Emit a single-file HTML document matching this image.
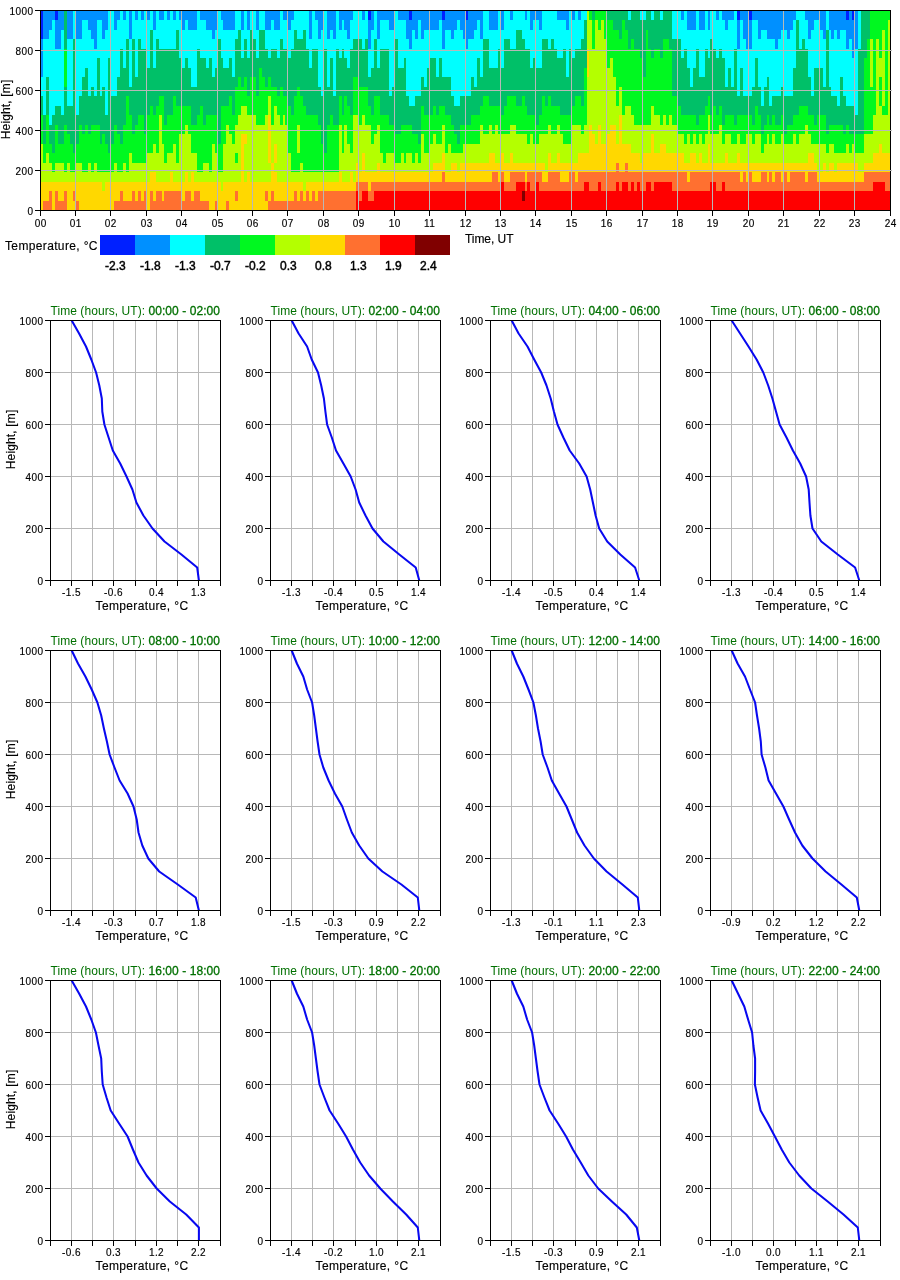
<!DOCTYPE html>
<html><head><meta charset="utf-8"><title>Temperature profiles</title>
<style>html,body{margin:0;padding:0;background:#fff}svg{display:block}body>svg{will-change:transform}text{font-family:'Liberation Sans', Arial, sans-serif;fill:#000}.t{font-size:10px;letter-spacing:0.42px;stroke:#000;stroke-width:.15px}.l{font-size:12px;stroke:#000;stroke-width:.15px}.g{fill:#007000;font-size:12px}.ax{fill:#000;shape-rendering:crispEdges}.gr{fill:#b8b8b8;shape-rendering:crispEdges}.hm{shape-rendering:crispEdges}.cv{fill:none;stroke:#0808f0;stroke-width:2.05;stroke-linejoin:round;stroke-linecap:butt}</style></head><body>
<svg width="900" height="1280" viewBox="0 0 900 1280">
<rect width="900" height="1280" fill="#fff"/>
<g class="hm">
<path fill="#0020ff" d="M40 11h3v28h-3zM55 11h3v9h-3zM368 11h3v9h-3zM409 11h3v9h-3zM442 11h3v9h-3zM466 11h2v9h-2zM737 11h3v9h-3zM749 11h3v9h-3zM846 11h3v9h-3zM852 11h3v9h-3z"/>
<path fill="#0090ff" d="M40 39h3v38h-3zM43 11h3v28h-3zM46 11h3v28h-3zM49 11h3v19h-3zM52 11h3v9h-3zM55 20h3v29h-3zM58 11h3v38h-3zM61 11h3v19h-3zM67 11h3v28h-3zM70 11h3v28h-3zM76 11h3v28h-3zM79 11h3v28h-3zM82 11h3v9h-3zM85 11h3v9h-3zM88 11h3v19h-3zM91 11h3v28h-3zM94 11h3v38h-3zM97 11h3v9h-3zM100 11h2v9h-2zM102 11h3v28h-3zM105 11h3v19h-3zM114 11h3v19h-3zM117 11h3v9h-3zM123 11h3v9h-3zM129 11h3v28h-3zM135 11h3v9h-3zM141 11h3v9h-3zM147 11h3v9h-3zM153 11h3v19h-3zM159 11h3v9h-3zM162 11h2v9h-2zM167 11h3v9h-3zM173 11h3v9h-3zM179 11h3v9h-3zM182 11h3v19h-3zM185 11h3v9h-3zM188 11h3v19h-3zM191 11h3v19h-3zM194 11h3v19h-3zM200 11h3v9h-3zM203 11h3v9h-3zM206 11h3v19h-3zM209 11h3v19h-3zM212 11h3v28h-3zM215 11h3v19h-3zM221 11h2v9h-2zM223 11h3v19h-3zM226 11h3v19h-3zM229 11h3v19h-3zM232 11h3v19h-3zM241 11h3v19h-3zM247 11h3v19h-3zM256 11h3v19h-3zM265 11h3v19h-3zM268 11h3v19h-3zM271 11h3v9h-3zM274 11h3v19h-3zM277 11h3v19h-3zM283 11h2v9h-2zM285 11h3v9h-3zM288 11h3v19h-3zM291 11h3v9h-3zM309 11h3v28h-3zM315 11h3v9h-3zM318 11h3v28h-3zM321 11h3v19h-3zM327 11h3v28h-3zM330 11h3v19h-3zM333 11h3v28h-3zM339 11h3v19h-3zM342 11h2v9h-2zM344 11h3v19h-3zM347 11h3v28h-3zM350 11h3v9h-3zM362 11h3v9h-3zM368 20h3v29h-3zM371 11h3v19h-3zM377 11h3v28h-3zM380 11h3v9h-3zM383 11h3v9h-3zM386 11h3v9h-3zM389 11h3v19h-3zM392 11h3v19h-3zM398 11h3v9h-3zM401 11h3v9h-3zM404 11h2v9h-2zM406 11h3v28h-3zM409 20h3v29h-3zM412 11h3v19h-3zM415 11h3v28h-3zM418 11h3v9h-3zM421 11h3v28h-3zM424 11h3v19h-3zM427 11h3v19h-3zM430 11h3v19h-3zM433 11h3v19h-3zM436 11h3v19h-3zM439 11h3v9h-3zM442 20h3v29h-3zM445 11h3v19h-3zM448 11h3v19h-3zM451 11h3v28h-3zM454 11h3v19h-3zM457 11h3v9h-3zM460 11h3v19h-3zM463 11h3v28h-3zM466 20h2v29h-2zM468 11h3v28h-3zM471 11h3v28h-3zM474 11h3v19h-3zM477 11h3v9h-3zM480 11h3v28h-3zM489 11h3v19h-3zM492 11h3v19h-3zM495 11h3v19h-3zM501 11h3v19h-3zM510 11h3v9h-3zM525 11h2v9h-2zM530 11h3v19h-3zM533 11h3v9h-3zM536 11h3v9h-3zM539 11h3v19h-3zM557 11h3v9h-3zM560 11h3v9h-3zM563 11h3v9h-3zM566 11h3v19h-3zM572 11h3v9h-3zM578 11h3v9h-3zM681 11h3v9h-3zM687 11h3v19h-3zM690 11h3v19h-3zM693 11h3v19h-3zM699 11h3v19h-3zM702 11h3v19h-3zM708 11h2v19h-2zM716 11h3v9h-3zM722 11h3v9h-3zM725 11h3v19h-3zM728 11h3v9h-3zM731 11h3v9h-3zM737 20h3v29h-3zM740 11h3v9h-3zM743 11h3v28h-3zM746 11h3v38h-3zM749 20h3v29h-3zM752 11h3v9h-3zM755 11h3v9h-3zM758 11h3v28h-3zM761 11h3v19h-3zM764 11h3v19h-3zM767 11h2v28h-2zM769 11h3v28h-3zM772 11h3v28h-3zM775 11h3v38h-3zM778 11h3v28h-3zM781 11h3v19h-3zM784 11h3v19h-3zM787 11h3v28h-3zM790 11h3v19h-3zM793 11h3v9h-3zM805 11h3v9h-3zM808 11h3v28h-3zM811 11h3v19h-3zM814 11h3v9h-3zM817 11h3v9h-3zM820 11h3v19h-3zM823 11h3v28h-3zM829 11h2v19h-2zM831 11h3v28h-3zM834 11h3v19h-3zM837 11h3v28h-3zM840 11h3v19h-3zM843 11h3v19h-3zM846 20h3v29h-3zM849 11h3v28h-3zM852 20h3v38h-3zM855 11h3v38h-3z"/>
<path fill="#00ffff" d="M40 77h3v19h-3zM43 39h3v76h-3zM46 39h3v38h-3zM49 30h3v95h-3zM52 20h3v95h-3zM55 49h3v57h-3zM58 49h3v57h-3zM61 30h3v85h-3zM67 39h3v67h-3zM70 39h3v67h-3zM73 11h3v28h-3zM76 39h3v76h-3zM79 39h3v57h-3zM82 20h3v57h-3zM85 20h3v48h-3zM88 30h3v66h-3zM91 39h3v48h-3zM94 49h3v47h-3zM97 20h3v38h-3zM100 20h2v76h-2zM102 39h3v48h-3zM105 30h3v85h-3zM108 11h3v47h-3zM111 11h3v85h-3zM114 30h3v66h-3zM117 20h3v57h-3zM120 11h3v38h-3zM123 20h3v48h-3zM126 11h3v28h-3zM129 39h3v48h-3zM132 11h3v28h-3zM135 20h3v57h-3zM138 11h3v28h-3zM141 20h3v29h-3zM144 11h3v38h-3zM147 20h3v48h-3zM150 11h3v19h-3zM153 30h3v38h-3zM156 11h3v28h-3zM159 20h3v29h-3zM162 20h2v29h-2zM164 11h3v38h-3zM167 20h3v29h-3zM170 11h3v38h-3zM173 20h3v29h-3zM176 11h3v19h-3zM179 20h3v38h-3zM182 30h3v38h-3zM185 20h3v38h-3zM188 30h3v38h-3zM191 30h3v57h-3zM194 30h3v57h-3zM197 11h3v38h-3zM200 20h3v38h-3zM203 20h3v38h-3zM206 30h3v38h-3zM209 30h3v28h-3zM212 39h3v38h-3zM215 30h3v38h-3zM218 11h3v28h-3zM221 20h2v38h-2zM223 30h3v38h-3zM226 30h3v38h-3zM229 30h3v28h-3zM232 30h3v47h-3zM235 11h3v28h-3zM238 11h3v19h-3zM241 30h3v28h-3zM244 11h3v28h-3zM247 30h3v28h-3zM250 11h3v19h-3zM253 11h3v28h-3zM256 30h3v28h-3zM259 11h3v19h-3zM262 11h3v19h-3zM265 30h3v19h-3zM268 30h3v28h-3zM271 20h3v29h-3zM274 30h3v19h-3zM277 30h3v28h-3zM280 11h3v28h-3zM283 20h2v29h-2zM285 20h3v29h-3zM288 30h3v28h-3zM291 20h3v29h-3zM294 11h3v19h-3zM297 11h3v28h-3zM300 11h3v28h-3zM303 11h3v19h-3zM306 11h3v38h-3zM309 39h3v29h-3zM312 11h3v38h-3zM315 20h3v29h-3zM318 39h3v48h-3zM321 30h3v66h-3zM324 11h3v38h-3zM327 39h3v48h-3zM330 30h3v28h-3zM333 39h3v57h-3zM336 11h3v38h-3zM339 30h3v28h-3zM342 20h2v29h-2zM344 30h3v28h-3zM347 39h3v29h-3zM350 20h3v29h-3zM353 11h3v28h-3zM356 11h3v28h-3zM359 11h3v28h-3zM362 20h3v29h-3zM365 11h3v28h-3zM368 49h3v28h-3zM371 30h3v38h-3zM374 11h3v28h-3zM377 39h3v29h-3zM380 20h3v29h-3zM383 20h3v29h-3zM386 20h3v29h-3zM389 30h3v66h-3zM392 30h3v57h-3zM395 11h3v28h-3zM398 20h3v48h-3zM401 20h3v48h-3zM404 20h2v38h-2zM406 39h3v57h-3zM409 49h3v57h-3zM412 30h3v76h-3zM415 39h3v57h-3zM418 20h3v76h-3zM421 39h3v38h-3zM424 30h3v57h-3zM427 30h3v38h-3zM430 30h3v28h-3zM433 30h3v28h-3zM436 30h3v47h-3zM439 20h3v38h-3zM442 49h3v28h-3zM445 30h3v47h-3zM448 30h3v47h-3zM451 39h3v57h-3zM454 30h3v76h-3zM457 20h3v86h-3zM460 30h3v66h-3zM463 39h3v57h-3zM466 49h2v47h-2zM468 39h3v57h-3zM471 39h3v38h-3zM474 30h3v57h-3zM477 20h3v38h-3zM480 39h3v38h-3zM483 11h3v28h-3zM486 11h3v28h-3zM489 30h3v38h-3zM492 30h3v38h-3zM495 30h3v38h-3zM498 11h3v38h-3zM501 30h3v38h-3zM504 11h3v28h-3zM507 11h3v28h-3zM510 20h3v29h-3zM513 11h3v38h-3zM516 11h3v19h-3zM519 11h3v19h-3zM522 11h3v28h-3zM525 20h2v29h-2zM527 11h3v38h-3zM530 30h3v38h-3zM533 20h3v38h-3zM536 20h3v48h-3zM539 30h3v38h-3zM542 11h3v28h-3zM545 11h3v28h-3zM548 11h3v38h-3zM551 11h3v28h-3zM554 11h3v38h-3zM557 20h3v38h-3zM560 20h3v38h-3zM563 20h3v29h-3zM566 30h3v47h-3zM569 11h3v38h-3zM572 20h3v38h-3zM575 11h3v38h-3zM578 20h3v29h-3zM581 11h3v28h-3zM584 11h3v9h-3zM628 11h3v9h-3zM640 11h3v9h-3zM643 11h3v9h-3zM651 11h3v9h-3zM660 11h3v9h-3zM672 11h3v28h-3zM675 11h3v28h-3zM678 11h3v28h-3zM681 20h3v38h-3zM684 11h3v38h-3zM687 30h3v38h-3zM690 30h3v57h-3zM693 30h3v38h-3zM696 11h3v38h-3zM699 30h3v47h-3zM702 30h3v47h-3zM705 11h3v38h-3zM708 30h2v28h-2zM710 11h3v28h-3zM713 11h3v38h-3zM716 20h3v38h-3zM719 11h3v38h-3zM722 20h3v38h-3zM725 30h3v57h-3zM728 20h3v48h-3zM731 20h3v67h-3zM734 11h3v38h-3zM737 49h3v47h-3zM740 20h3v48h-3zM743 39h3v57h-3zM746 49h3v47h-3zM749 49h3v47h-3zM752 20h3v67h-3zM755 20h3v38h-3zM758 39h3v48h-3zM761 30h3v76h-3zM764 30h3v57h-3zM767 39h2v38h-2zM769 39h3v67h-3zM772 39h3v57h-3zM775 49h3v47h-3zM778 39h3v57h-3zM781 30h3v57h-3zM784 30h3v66h-3zM787 39h3v57h-3zM790 30h3v66h-3zM793 20h3v48h-3zM796 11h3v9h-3zM799 11h3v38h-3zM802 11h3v28h-3zM805 20h3v29h-3zM808 39h3v38h-3zM811 30h3v66h-3zM814 20h3v48h-3zM817 20h3v48h-3zM820 30h3v38h-3zM823 39h3v48h-3zM826 11h3v19h-3zM829 30h2v57h-2zM831 39h3v57h-3zM834 30h3v66h-3zM837 39h3v67h-3zM840 30h3v47h-3zM843 30h3v66h-3zM846 49h3v57h-3zM849 39h3v67h-3zM852 58h3v48h-3zM855 49h3v66h-3zM858 11h3v38h-3z"/>
<path fill="#00c068" d="M40 96h3v19h-3zM43 115h3v29h-3zM46 77h3v38h-3zM49 125h3v19h-3zM52 115h3v38h-3zM55 106h3v19h-3zM58 106h3v38h-3zM61 115h3v29h-3zM64 11h3v38h-3zM64 87h3v38h-3zM67 106h3v28h-3zM70 106h3v38h-3zM73 39h3v114h-3zM76 115h3v29h-3zM79 96h3v29h-3zM82 77h3v57h-3zM85 68h3v57h-3zM88 96h3v38h-3zM91 87h3v38h-3zM94 96h3v29h-3zM97 58h3v67h-3zM100 96h2v48h-2zM102 87h3v47h-3zM105 115h3v29h-3zM108 58h3v95h-3zM111 96h3v48h-3zM114 96h3v29h-3zM117 77h3v57h-3zM120 49h3v95h-3zM123 68h3v57h-3zM126 39h3v57h-3zM129 87h3v28h-3zM132 39h3v95h-3zM135 77h3v48h-3zM138 39h3v76h-3zM141 49h3v66h-3zM144 49h3v85h-3zM147 68h3v47h-3zM150 30h3v76h-3zM153 68h3v47h-3zM156 39h3v67h-3zM159 49h3v47h-3zM162 49h2v47h-2zM164 49h3v76h-3zM167 49h3v66h-3zM170 49h3v66h-3zM173 49h3v47h-3zM176 30h3v76h-3zM179 58h3v48h-3zM182 68h3v38h-3zM185 58h3v48h-3zM188 68h3v38h-3zM191 87h3v38h-3zM194 87h3v38h-3zM197 49h3v66h-3zM200 58h3v48h-3zM203 58h3v67h-3zM206 68h3v47h-3zM209 58h3v57h-3zM212 77h3v38h-3zM215 68h3v47h-3zM218 39h3v105h-3zM221 58h2v48h-2zM223 68h3v38h-3zM226 68h3v38h-3zM229 58h3v38h-3zM232 77h3v38h-3zM235 39h3v48h-3zM238 30h3v47h-3zM241 58h3v29h-3zM244 39h3v38h-3zM247 58h3v38h-3zM250 30h3v47h-3zM253 39h3v38h-3zM256 58h3v38h-3zM259 30h3v38h-3zM262 30h3v47h-3zM265 49h3v38h-3zM268 58h3v19h-3zM271 49h3v38h-3zM274 49h3v38h-3zM277 58h3v38h-3zM280 39h3v48h-3zM283 49h2v47h-2zM285 49h3v47h-3zM288 58h3v48h-3zM291 49h3v66h-3zM294 30h3v66h-3zM297 39h3v48h-3zM300 39h3v57h-3zM303 30h3v76h-3zM306 49h3v66h-3zM309 68h3v47h-3zM312 49h3v66h-3zM315 49h3v66h-3zM318 87h3v38h-3zM321 96h3v48h-3zM324 49h3v104h-3zM327 87h3v38h-3zM330 58h3v57h-3zM333 96h3v29h-3zM336 49h3v76h-3zM339 58h3v38h-3zM342 49h2v66h-2zM344 58h3v38h-3zM347 68h3v38h-3zM350 49h3v66h-3zM353 39h3v38h-3zM356 39h3v38h-3zM359 39h3v48h-3zM362 49h3v38h-3zM365 39h3v48h-3zM368 77h3v29h-3zM371 68h3v47h-3zM374 39h3v57h-3zM377 68h3v28h-3zM380 49h3v66h-3zM383 49h3v66h-3zM386 49h3v66h-3zM389 96h3v29h-3zM392 87h3v38h-3zM395 39h3v95h-3zM398 68h3v66h-3zM401 68h3v57h-3zM404 58h2v67h-2zM406 96h3v29h-3zM409 106h3v19h-3zM412 106h3v28h-3zM415 96h3v38h-3zM418 96h3v48h-3zM421 77h3v29h-3zM424 87h3v28h-3zM427 68h3v47h-3zM430 58h3v57h-3zM433 58h3v48h-3zM436 77h3v38h-3zM439 58h3v48h-3zM442 77h3v29h-3zM445 77h3v38h-3zM448 77h3v38h-3zM451 96h3v29h-3zM454 106h3v28h-3zM457 106h3v38h-3zM460 96h3v29h-3zM463 96h3v29h-3zM466 96h2v29h-2zM468 96h3v29h-3zM471 77h3v38h-3zM474 87h3v28h-3zM477 58h3v57h-3zM480 77h3v29h-3zM483 39h3v57h-3zM486 39h3v57h-3zM489 68h3v38h-3zM492 68h3v38h-3zM495 68h3v38h-3zM498 49h3v57h-3zM501 68h3v47h-3zM504 39h3v67h-3zM507 39h3v57h-3zM510 49h3v47h-3zM513 49h3v47h-3zM516 30h3v76h-3zM519 30h3v76h-3zM522 39h3v57h-3zM525 49h2v57h-2zM527 49h3v66h-3zM530 68h3v47h-3zM533 58h3v57h-3zM536 68h3v57h-3zM539 68h3v47h-3zM542 39h3v57h-3zM545 39h3v67h-3zM548 49h3v47h-3zM551 39h3v67h-3zM554 49h3v57h-3zM557 58h3v48h-3zM560 58h3v57h-3zM563 49h3v66h-3zM566 77h3v38h-3zM569 49h3v66h-3zM572 58h3v48h-3zM575 49h3v47h-3zM578 49h3v47h-3zM581 39h3v67h-3zM584 20h3v48h-3zM592 11h3v9h-3zM607 11h3v9h-3zM610 11h3v9h-3zM613 11h3v19h-3zM616 11h3v19h-3zM619 11h3v28h-3zM622 11h3v9h-3zM625 11h3v19h-3zM628 20h3v29h-3zM631 11h3v28h-3zM634 11h3v38h-3zM637 11h3v38h-3zM640 20h3v38h-3zM643 20h3v57h-3zM646 11h2v19h-2zM648 11h3v38h-3zM651 20h3v38h-3zM654 11h3v38h-3zM657 11h3v38h-3zM660 20h3v38h-3zM663 11h3v28h-3zM666 11h3v28h-3zM669 11h3v38h-3zM672 39h3v57h-3zM675 39h3v57h-3zM678 39h3v67h-3zM681 58h3v57h-3zM684 49h3v66h-3zM687 68h3v47h-3zM690 87h3v28h-3zM693 68h3v47h-3zM696 49h3v76h-3zM699 77h3v38h-3zM702 77h3v38h-3zM705 49h3v57h-3zM708 58h2v38h-2zM710 39h3v76h-3zM713 49h3v57h-3zM716 58h3v57h-3zM719 49h3v57h-3zM722 58h3v67h-3zM725 87h3v28h-3zM728 68h3v47h-3zM731 87h3v28h-3zM734 49h3v76h-3zM737 96h3v19h-3zM740 68h3v47h-3zM743 96h3v19h-3zM746 96h3v19h-3zM749 96h3v19h-3zM752 87h3v38h-3zM755 58h3v48h-3zM758 87h3v28h-3zM761 106h3v28h-3zM764 87h3v38h-3zM767 77h2v38h-2zM769 106h3v19h-3zM772 96h3v19h-3zM775 96h3v29h-3zM778 96h3v29h-3zM781 87h3v28h-3zM784 96h3v38h-3zM787 96h3v29h-3zM790 96h3v29h-3zM793 68h3v47h-3zM796 20h3v95h-3zM799 49h3v57h-3zM802 39h3v67h-3zM805 49h3v57h-3zM808 77h3v38h-3zM811 96h3v19h-3zM814 68h3v57h-3zM817 68h3v47h-3zM820 68h3v47h-3zM823 87h3v28h-3zM826 30h3v104h-3zM829 87h2v38h-2zM831 96h3v29h-3zM834 96h3v29h-3zM837 106h3v19h-3zM840 77h3v48h-3zM843 96h3v38h-3zM846 106h3v19h-3zM849 106h3v28h-3zM852 106h3v28h-3zM855 115h3v19h-3zM858 49h3v85h-3zM861 11h3v123h-3zM864 11h3v47h-3zM867 11h3v28h-3z"/>
<path fill="#00f820" d="M40 115h3v29h-3zM43 144h3v19h-3zM46 115h3v38h-3zM49 144h3v19h-3zM52 153h3v19h-3zM55 125h3v38h-3zM58 144h3v19h-3zM61 144h3v19h-3zM64 49h3v38h-3zM64 125h3v47h-3zM67 134h3v29h-3zM70 144h3v28h-3zM73 153h3v19h-3zM76 144h3v19h-3zM79 125h3v38h-3zM82 134h3v38h-3zM85 125h3v47h-3zM88 134h3v29h-3zM91 125h3v47h-3zM94 125h3v38h-3zM97 125h3v47h-3zM100 144h2v28h-2zM102 134h3v38h-3zM105 144h3v28h-3zM108 153h3v19h-3zM111 144h3v28h-3zM114 125h3v38h-3zM117 134h3v38h-3zM120 144h3v28h-3zM123 125h3v38h-3zM126 96h3v76h-3zM129 115h3v38h-3zM132 134h3v29h-3zM135 125h3v38h-3zM138 115h3v48h-3zM141 115h3v48h-3zM144 134h3v29h-3zM147 115h3v38h-3zM150 106h3v47h-3zM153 115h3v29h-3zM156 106h3v47h-3zM159 96h3v19h-3zM162 96h2v48h-2zM164 125h3v38h-3zM167 115h3v38h-3zM170 115h3v38h-3zM173 96h3v48h-3zM176 106h3v57h-3zM179 106h3v28h-3zM182 106h3v28h-3zM185 106h3v19h-3zM188 106h3v28h-3zM191 125h3v28h-3zM194 125h3v28h-3zM197 115h3v57h-3zM200 106h3v66h-3zM203 125h3v38h-3zM206 115h3v48h-3zM209 115h3v57h-3zM212 115h3v29h-3zM215 115h3v38h-3zM218 144h3v28h-3zM221 106h2v66h-2zM223 106h3v38h-3zM226 106h3v19h-3zM229 96h3v38h-3zM232 115h3v29h-3zM235 87h3v38h-3zM235 153h3v10h-3zM238 77h3v38h-3zM241 87h3v19h-3zM244 77h3v29h-3zM247 96h3v19h-3zM250 77h3v38h-3zM253 77h3v38h-3zM256 96h3v29h-3zM259 68h3v57h-3zM262 77h3v48h-3zM265 87h3v28h-3zM268 77h3v19h-3zM271 87h3v38h-3zM274 87h3v19h-3zM277 96h3v19h-3zM280 87h3v38h-3zM283 96h2v19h-2zM285 96h3v29h-3zM288 106h3v47h-3zM291 115h3v57h-3zM294 96h3v76h-3zM297 87h3v38h-3zM297 153h3v19h-3zM300 96h3v67h-3zM303 106h3v66h-3zM306 115h3v57h-3zM309 115h3v57h-3zM312 115h3v57h-3zM315 115h3v57h-3zM318 125h3v47h-3zM321 144h3v28h-3zM324 153h3v19h-3zM327 125h3v47h-3zM330 115h3v57h-3zM333 125h3v47h-3zM336 125h3v47h-3zM339 96h3v29h-3zM342 115h2v38h-2zM344 96h3v29h-3zM347 106h3v38h-3zM350 115h3v38h-3zM353 77h3v38h-3zM356 77h3v38h-3zM359 87h3v38h-3zM362 87h3v28h-3zM365 87h3v38h-3zM368 106h3v19h-3zM371 115h3v29h-3zM374 96h3v38h-3zM377 96h3v29h-3zM380 115h3v38h-3zM383 115h3v48h-3zM386 115h3v38h-3zM389 125h3v28h-3zM392 125h3v28h-3zM395 134h3v29h-3zM398 134h3v29h-3zM401 125h3v28h-3zM404 125h2v38h-2zM406 125h3v28h-3zM409 125h3v28h-3zM412 134h3v29h-3zM415 134h3v19h-3zM418 144h3v19h-3zM421 106h3v28h-3zM424 115h3v38h-3zM427 115h3v38h-3zM430 115h3v29h-3zM433 106h3v28h-3zM436 115h3v29h-3zM439 106h3v38h-3zM442 106h3v19h-3zM445 115h3v38h-3zM448 115h3v29h-3zM451 125h3v28h-3zM454 134h3v19h-3zM457 144h3v9h-3zM460 125h3v28h-3zM463 125h3v19h-3zM466 125h2v19h-2zM468 125h3v19h-3zM471 115h3v29h-3zM474 115h3v29h-3zM477 115h3v29h-3zM480 106h3v19h-3zM483 96h3v38h-3zM486 96h3v38h-3zM489 106h3v19h-3zM492 106h3v28h-3zM495 106h3v19h-3zM498 106h3v28h-3zM501 115h3v19h-3zM504 106h3v28h-3zM507 96h3v38h-3zM510 96h3v29h-3zM513 96h3v29h-3zM516 106h3v28h-3zM519 106h3v28h-3zM522 96h3v38h-3zM525 106h2v28h-2zM527 115h3v29h-3zM530 115h3v19h-3zM533 115h3v29h-3zM536 125h3v19h-3zM539 115h3v19h-3zM542 96h3v38h-3zM545 106h3v28h-3zM548 96h3v29h-3zM551 106h3v28h-3zM554 106h3v28h-3zM557 106h3v19h-3zM560 115h3v19h-3zM563 115h3v29h-3zM566 115h3v29h-3zM569 115h3v29h-3zM572 106h3v19h-3zM575 96h3v29h-3zM578 96h3v29h-3zM581 106h3v28h-3zM584 68h3v57h-3zM589 11h3v9h-3zM592 20h3v29h-3zM595 11h3v9h-3zM598 11h3v19h-3zM601 11h3v9h-3zM604 11h3v28h-3zM607 20h3v48h-3zM610 20h3v38h-3zM613 30h3v47h-3zM616 30h3v76h-3zM619 39h3v48h-3zM622 20h3v95h-3zM625 30h3v76h-3zM628 49h3v57h-3zM631 39h3v76h-3zM634 49h3v76h-3zM637 49h3v76h-3zM640 58h3v67h-3zM643 77h3v48h-3zM646 30h2v95h-2zM648 49h3v76h-3zM651 58h3v48h-3zM654 49h3v66h-3zM657 49h3v66h-3zM660 58h3v67h-3zM663 39h3v76h-3zM666 39h3v86h-3zM669 49h3v66h-3zM672 96h3v29h-3zM675 96h3v29h-3zM678 106h3v28h-3zM681 115h3v19h-3zM684 115h3v29h-3zM687 115h3v19h-3zM690 115h3v29h-3zM693 115h3v19h-3zM696 125h3v19h-3zM699 115h3v19h-3zM702 115h3v29h-3zM705 106h3v28h-3zM708 96h2v19h-2zM710 115h3v19h-3zM713 106h3v28h-3zM716 115h3v19h-3zM719 106h3v19h-3zM722 125h3v19h-3zM725 115h3v19h-3zM728 115h3v19h-3zM731 115h3v29h-3zM734 125h3v19h-3zM737 115h3v19h-3zM740 115h3v29h-3zM743 115h3v29h-3zM746 115h3v19h-3zM749 115h3v19h-3zM752 125h3v19h-3zM755 106h3v28h-3zM758 115h3v19h-3zM761 134h3v19h-3zM764 125h3v19h-3zM767 115h2v19h-2zM769 125h3v19h-3zM772 115h3v19h-3zM775 125h3v19h-3zM778 125h3v19h-3zM781 115h3v19h-3zM784 134h3v10h-3zM787 125h3v19h-3zM790 125h3v19h-3zM793 115h3v19h-3zM796 115h3v29h-3zM799 106h3v28h-3zM802 106h3v28h-3zM805 106h3v19h-3zM808 115h3v19h-3zM811 115h3v29h-3zM814 125h3v19h-3zM817 115h3v29h-3zM820 115h3v29h-3zM823 115h3v29h-3zM826 134h3v19h-3zM829 125h2v19h-2zM831 125h3v19h-3zM834 125h3v28h-3zM837 125h3v28h-3zM840 125h3v28h-3zM843 134h3v19h-3zM846 125h3v19h-3zM849 134h3v19h-3zM852 134h3v10h-3zM855 134h3v19h-3zM858 134h3v19h-3zM861 134h3v19h-3zM864 58h3v76h-3zM867 39h3v95h-3zM870 11h3v28h-3zM870 87h3v47h-3zM873 11h3v104h-3zM876 11h3v28h-3zM879 11h3v47h-3zM879 77h3v29h-3zM882 11h3v19h-3zM882 106h3v9h-3zM885 11h3v104h-3zM888 11h2v9h-2z"/>
<path fill="#b4ff00" d="M40 144h3v38h-3zM43 163h3v19h-3zM46 153h3v29h-3zM49 163h3v19h-3zM52 172h3v10h-3zM55 163h3v19h-3zM58 163h3v19h-3zM61 163h3v19h-3zM64 172h3v10h-3zM67 163h3v19h-3zM70 172h3v10h-3zM73 172h3v10h-3zM76 163h3v19h-3zM79 163h3v19h-3zM82 172h3v10h-3zM85 172h3v10h-3zM88 163h3v19h-3zM91 172h3v10h-3zM94 163h3v19h-3zM97 172h3v10h-3zM100 172h2v10h-2zM102 172h3v19h-3zM105 172h3v10h-3zM108 172h3v10h-3zM111 172h3v10h-3zM114 163h3v19h-3zM117 172h3v10h-3zM120 172h3v10h-3zM123 163h3v19h-3zM126 172h3v10h-3zM129 153h3v29h-3zM132 163h3v19h-3zM135 163h3v19h-3zM138 163h3v19h-3zM141 163h3v19h-3zM144 163h3v19h-3zM147 153h3v29h-3zM150 153h3v19h-3zM153 144h3v28h-3zM156 153h3v29h-3zM159 115h3v67h-3zM162 144h2v38h-2zM164 163h3v19h-3zM167 153h3v29h-3zM170 153h3v19h-3zM173 144h3v38h-3zM176 163h3v19h-3zM179 134h3v48h-3zM182 134h3v48h-3zM185 125h3v47h-3zM188 134h3v48h-3zM191 153h3v19h-3zM194 153h3v29h-3zM197 172h3v10h-3zM200 172h3v10h-3zM203 163h3v19h-3zM206 163h3v19h-3zM209 172h3v10h-3zM212 144h3v38h-3zM215 153h3v29h-3zM218 172h3v10h-3zM221 172h2v19h-2zM223 144h3v38h-3zM226 125h3v57h-3zM229 134h3v48h-3zM232 144h3v38h-3zM235 125h3v28h-3zM235 163h3v19h-3zM238 115h3v67h-3zM241 106h3v28h-3zM244 106h3v28h-3zM244 144h3v38h-3zM247 115h3v57h-3zM250 115h3v67h-3zM253 115h3v67h-3zM256 125h3v57h-3zM259 125h3v57h-3zM262 125h3v57h-3zM265 115h3v67h-3zM268 96h3v19h-3zM268 163h3v19h-3zM271 125h3v38h-3zM274 106h3v38h-3zM274 163h3v9h-3zM277 115h3v67h-3zM280 125h3v57h-3zM283 115h2v67h-2zM285 125h3v57h-3zM288 153h3v29h-3zM291 172h3v10h-3zM294 172h3v10h-3zM297 125h3v28h-3zM297 172h3v10h-3zM300 163h3v19h-3zM303 172h3v19h-3zM306 172h3v10h-3zM309 172h3v10h-3zM312 172h3v10h-3zM315 172h3v10h-3zM318 172h3v10h-3zM321 172h3v10h-3zM324 172h3v10h-3zM327 172h3v10h-3zM330 172h3v10h-3zM333 172h3v10h-3zM336 172h3v10h-3zM339 125h3v47h-3zM342 153h2v29h-2zM344 125h3v57h-3zM347 144h3v38h-3zM350 153h3v19h-3zM353 115h3v67h-3zM356 115h3v48h-3zM359 125h3v47h-3zM362 115h3v38h-3zM365 125h3v47h-3zM368 125h3v47h-3zM371 144h3v28h-3zM374 134h3v38h-3zM377 125h3v38h-3zM380 153h3v19h-3zM383 163h3v9h-3zM386 153h3v19h-3zM389 153h3v19h-3zM392 153h3v19h-3zM395 163h3v9h-3zM398 163h3v9h-3zM401 153h3v19h-3zM404 163h2v9h-2zM406 153h3v19h-3zM409 153h3v19h-3zM412 163h3v9h-3zM415 153h3v19h-3zM418 163h3v9h-3zM421 134h3v38h-3zM424 153h3v19h-3zM427 153h3v19h-3zM430 144h3v28h-3zM433 134h3v29h-3zM436 144h3v19h-3zM439 144h3v19h-3zM442 125h3v28h-3zM445 153h3v19h-3zM448 144h3v28h-3zM451 153h3v10h-3zM454 153h3v10h-3zM457 153h3v19h-3zM460 153h3v10h-3zM463 144h3v19h-3zM466 144h2v19h-2zM468 144h3v19h-3zM471 144h3v19h-3zM474 144h3v19h-3zM477 144h3v19h-3zM480 125h3v38h-3zM483 134h3v29h-3zM486 134h3v29h-3zM489 125h3v28h-3zM492 134h3v19h-3zM495 125h3v38h-3zM498 134h3v29h-3zM501 134h3v19h-3zM504 134h3v29h-3zM507 134h3v29h-3zM510 125h3v28h-3zM513 125h3v38h-3zM516 134h3v29h-3zM519 134h3v29h-3zM522 134h3v29h-3zM525 134h2v29h-2zM527 144h3v19h-3zM530 134h3v29h-3zM533 144h3v19h-3zM536 144h3v19h-3zM539 134h3v29h-3zM542 134h3v29h-3zM545 134h3v38h-3zM548 125h3v28h-3zM551 134h3v29h-3zM554 134h3v29h-3zM557 125h3v28h-3zM560 134h3v29h-3zM563 144h3v19h-3zM566 144h3v19h-3zM569 144h3v19h-3zM572 125h3v38h-3zM575 125h3v38h-3zM578 125h3v28h-3zM581 134h3v19h-3zM584 125h3v28h-3zM587 11h2v38h-2zM587 77h2v76h-2zM589 20h3v105h-3zM592 49h3v85h-3zM595 20h3v124h-3zM598 30h3v95h-3zM601 20h3v124h-3zM604 39h3v105h-3zM607 68h3v66h-3zM610 58h3v67h-3zM613 77h3v48h-3zM616 106h3v38h-3zM619 87h3v28h-3zM622 115h3v29h-3zM625 106h3v38h-3zM628 106h3v38h-3zM631 115h3v38h-3zM634 125h3v28h-3zM637 125h3v28h-3zM640 125h3v38h-3zM643 125h3v28h-3zM646 125h2v28h-2zM648 125h3v28h-3zM651 106h3v28h-3zM654 115h3v38h-3zM657 115h3v38h-3zM660 125h3v19h-3zM663 115h3v29h-3zM666 125h3v28h-3zM669 115h3v38h-3zM672 125h3v28h-3zM675 125h3v28h-3zM678 134h3v19h-3zM681 134h3v19h-3zM684 144h3v19h-3zM687 134h3v29h-3zM690 144h3v9h-3zM693 134h3v19h-3zM696 144h3v19h-3zM699 134h3v19h-3zM702 144h3v19h-3zM705 134h3v29h-3zM708 115h2v29h-2zM710 134h3v29h-3zM713 134h3v29h-3zM716 134h3v29h-3zM719 125h3v38h-3zM722 144h3v19h-3zM725 134h3v19h-3zM728 134h3v29h-3zM731 144h3v19h-3zM734 144h3v19h-3zM737 134h3v19h-3zM740 144h3v19h-3zM743 144h3v19h-3zM746 134h3v29h-3zM749 134h3v29h-3zM752 144h3v19h-3zM755 134h3v29h-3zM758 134h3v29h-3zM761 153h3v10h-3zM764 144h3v19h-3zM767 134h2v29h-2zM769 144h3v19h-3zM772 134h3v29h-3zM775 144h3v19h-3zM778 144h3v19h-3zM781 134h3v29h-3zM784 144h3v19h-3zM787 144h3v19h-3zM790 144h3v19h-3zM793 134h3v29h-3zM796 144h3v19h-3zM799 134h3v29h-3zM802 134h3v29h-3zM805 125h3v38h-3zM808 134h3v19h-3zM811 144h3v9h-3zM814 144h3v19h-3zM817 144h3v28h-3zM820 144h3v28h-3zM823 144h3v19h-3zM826 153h3v19h-3zM829 144h2v19h-2zM831 144h3v19h-3zM834 153h3v19h-3zM837 153h3v10h-3zM840 153h3v10h-3zM843 153h3v10h-3zM846 144h3v19h-3zM849 153h3v10h-3zM852 144h3v19h-3zM855 153h3v10h-3zM858 153h3v19h-3zM861 153h3v19h-3zM864 134h3v29h-3zM867 134h3v29h-3zM870 39h3v48h-3zM870 134h3v29h-3zM873 115h3v38h-3zM876 39h3v114h-3zM879 58h3v19h-3zM879 106h3v38h-3zM882 30h3v76h-3zM882 115h3v38h-3zM885 115h3v38h-3zM888 20h2v133h-2z"/>
<path fill="#ffd800" d="M40 182h3v29h-3zM43 182h3v19h-3zM46 182h3v19h-3zM49 182h3v9h-3zM52 182h3v29h-3zM55 182h3v9h-3zM58 182h3v19h-3zM61 182h3v19h-3zM64 182h3v9h-3zM67 182h3v29h-3zM70 182h3v29h-3zM73 182h3v9h-3zM73 201h3v10h-3zM76 182h3v19h-3zM79 182h3v29h-3zM82 182h3v29h-3zM85 182h3v29h-3zM88 182h3v29h-3zM91 182h3v29h-3zM94 182h3v29h-3zM97 182h3v29h-3zM100 182h2v29h-2zM102 191h3v20h-3zM105 182h3v29h-3zM108 182h3v29h-3zM111 182h3v29h-3zM114 182h3v19h-3zM117 182h3v19h-3zM120 182h3v9h-3zM123 182h3v19h-3zM126 182h3v19h-3zM129 182h3v19h-3zM132 182h3v9h-3zM135 182h3v19h-3zM138 182h3v9h-3zM141 182h3v19h-3zM144 182h3v9h-3zM147 182h3v29h-3zM150 172h3v19h-3zM153 172h3v29h-3zM156 182h3v9h-3zM159 182h3v9h-3zM162 182h2v19h-2zM164 182h3v9h-3zM167 182h3v9h-3zM170 172h3v19h-3zM173 182h3v9h-3zM176 182h3v9h-3zM179 182h3v9h-3zM182 182h3v19h-3zM185 172h3v19h-3zM188 182h3v9h-3zM191 172h3v29h-3zM194 182h3v9h-3zM197 182h3v9h-3zM200 182h3v19h-3zM203 182h3v19h-3zM206 182h3v19h-3zM209 182h3v29h-3zM212 182h3v29h-3zM215 182h3v19h-3zM218 182h3v29h-3zM221 191h2v20h-2zM223 182h3v29h-3zM226 182h3v19h-3zM229 182h3v29h-3zM232 182h3v29h-3zM235 182h3v9h-3zM235 201h3v10h-3zM238 182h3v29h-3zM241 134h3v77h-3zM244 134h3v10h-3zM244 182h3v29h-3zM247 172h3v39h-3zM250 182h3v29h-3zM253 182h3v29h-3zM256 182h3v29h-3zM259 182h3v29h-3zM262 182h3v29h-3zM265 182h3v9h-3zM265 201h3v10h-3zM268 115h3v48h-3zM268 182h3v19h-3zM271 163h3v28h-3zM274 144h3v19h-3zM274 172h3v29h-3zM277 182h3v19h-3zM280 182h3v19h-3zM283 182h2v19h-2zM285 182h3v19h-3zM288 182h3v19h-3zM291 182h3v19h-3zM294 182h3v9h-3zM297 182h3v19h-3zM300 182h3v9h-3zM303 191h3v10h-3zM306 182h3v9h-3zM309 182h3v19h-3zM312 182h3v9h-3zM315 182h3v19h-3zM318 182h3v9h-3zM321 182h3v9h-3zM324 182h3v9h-3zM327 182h3v9h-3zM330 182h3v9h-3zM333 182h3v9h-3zM336 182h3v9h-3zM339 172h3v19h-3zM342 182h2v9h-2zM344 182h3v9h-3zM347 182h3v9h-3zM350 172h3v19h-3zM353 182h3v9h-3zM356 163h3v19h-3zM359 172h3v10h-3zM362 153h3v29h-3zM365 172h3v10h-3zM368 172h3v19h-3zM371 172h3v10h-3zM374 172h3v10h-3zM377 163h3v19h-3zM380 172h3v10h-3zM383 172h3v10h-3zM386 172h3v10h-3zM389 172h3v10h-3zM392 172h3v10h-3zM395 172h3v10h-3zM398 172h3v10h-3zM401 172h3v10h-3zM404 172h2v10h-2zM406 172h3v10h-3zM409 172h3v10h-3zM412 172h3v10h-3zM415 172h3v10h-3zM418 172h3v10h-3zM421 172h3v10h-3zM424 172h3v10h-3zM427 172h3v10h-3zM430 172h3v10h-3zM433 163h3v19h-3zM436 163h3v19h-3zM439 163h3v19h-3zM442 153h3v19h-3zM445 172h3v10h-3zM448 172h3v10h-3zM451 163h3v19h-3zM454 163h3v19h-3zM457 172h3v10h-3zM460 163h3v19h-3zM463 163h3v19h-3zM466 163h2v19h-2zM468 163h3v19h-3zM471 163h3v19h-3zM474 163h3v19h-3zM477 163h3v19h-3zM480 163h3v19h-3zM483 163h3v19h-3zM486 163h3v19h-3zM489 153h3v29h-3zM492 153h3v19h-3zM495 163h3v9h-3zM498 163h3v19h-3zM501 153h3v19h-3zM504 163h3v19h-3zM507 163h3v19h-3zM510 153h3v19h-3zM513 163h3v9h-3zM516 163h3v9h-3zM519 163h3v9h-3zM522 163h3v9h-3zM525 163h2v19h-2zM527 163h3v9h-3zM530 163h3v9h-3zM533 163h3v9h-3zM536 163h3v9h-3zM539 163h3v9h-3zM542 163h3v19h-3zM545 172h3v10h-3zM548 153h3v19h-3zM551 163h3v9h-3zM554 163h3v9h-3zM557 153h3v19h-3zM560 163h3v19h-3zM563 163h3v19h-3zM566 163h3v19h-3zM569 163h3v9h-3zM572 163h3v9h-3zM575 163h3v19h-3zM578 153h3v19h-3zM581 153h3v19h-3zM584 153h3v19h-3zM587 49h2v28h-2zM587 153h2v19h-2zM589 125h3v47h-3zM592 134h3v38h-3zM595 144h3v28h-3zM598 125h3v47h-3zM601 144h3v28h-3zM604 144h3v28h-3zM607 134h3v38h-3zM610 125h3v47h-3zM613 125h3v47h-3zM616 144h3v19h-3zM619 115h3v57h-3zM622 144h3v28h-3zM625 144h3v19h-3zM628 144h3v28h-3zM631 153h3v19h-3zM634 153h3v19h-3zM637 153h3v19h-3zM640 163h3v9h-3zM643 153h3v19h-3zM646 153h2v19h-2zM648 153h3v19h-3zM651 134h3v38h-3zM654 153h3v19h-3zM657 153h3v19h-3zM660 144h3v28h-3zM663 144h3v28h-3zM666 153h3v19h-3zM669 153h3v19h-3zM672 153h3v19h-3zM675 153h3v19h-3zM678 153h3v19h-3zM681 153h3v19h-3zM684 163h3v9h-3zM687 163h3v19h-3zM690 153h3v19h-3zM693 153h3v19h-3zM696 163h3v9h-3zM699 153h3v19h-3zM702 163h3v9h-3zM705 163h3v9h-3zM708 144h2v28h-2zM710 163h3v9h-3zM713 163h3v9h-3zM716 163h3v9h-3zM719 163h3v9h-3zM722 163h3v9h-3zM725 153h3v19h-3zM728 163h3v9h-3zM731 163h3v9h-3zM734 163h3v9h-3zM737 153h3v19h-3zM740 163h3v19h-3zM743 163h3v9h-3zM746 163h3v19h-3zM749 163h3v9h-3zM752 163h3v19h-3zM755 163h3v19h-3zM758 163h3v19h-3zM761 163h3v9h-3zM764 163h3v9h-3zM767 163h2v19h-2zM769 163h3v9h-3zM772 163h3v19h-3zM775 163h3v9h-3zM778 163h3v9h-3zM781 163h3v19h-3zM784 163h3v9h-3zM787 163h3v19h-3zM790 163h3v9h-3zM793 163h3v9h-3zM796 163h3v9h-3zM799 163h3v9h-3zM802 163h3v9h-3zM805 163h3v19h-3zM808 153h3v19h-3zM811 153h3v19h-3zM814 163h3v9h-3zM817 172h3v10h-3zM820 172h3v10h-3zM823 163h3v19h-3zM826 172h3v10h-3zM829 163h2v19h-2zM831 163h3v19h-3zM834 172h3v10h-3zM837 163h3v19h-3zM840 163h3v19h-3zM843 163h3v19h-3zM846 163h3v19h-3zM849 163h3v19h-3zM852 163h3v19h-3zM855 163h3v19h-3zM858 172h3v10h-3zM861 172h3v10h-3zM864 163h3v9h-3zM867 163h3v9h-3zM870 163h3v9h-3zM873 153h3v19h-3zM876 153h3v19h-3zM879 144h3v28h-3zM882 153h3v19h-3zM885 153h3v19h-3zM888 153h2v19h-2z"/>
<path fill="#ff7030" d="M43 201h3v10h-3zM46 201h3v10h-3zM49 191h3v20h-3zM55 191h3v20h-3zM58 201h3v10h-3zM61 201h3v10h-3zM64 191h3v20h-3zM73 191h3v10h-3zM76 201h3v10h-3zM114 201h3v10h-3zM117 201h3v10h-3zM120 191h3v20h-3zM123 201h3v10h-3zM126 201h3v10h-3zM129 201h3v10h-3zM132 191h3v20h-3zM135 201h3v10h-3zM138 191h3v20h-3zM141 201h3v10h-3zM144 191h3v20h-3zM150 191h3v20h-3zM153 201h3v10h-3zM156 191h3v20h-3zM159 191h3v20h-3zM162 201h2v10h-2zM164 191h3v20h-3zM167 191h3v20h-3zM170 191h3v20h-3zM173 191h3v20h-3zM176 191h3v20h-3zM179 191h3v20h-3zM182 201h3v10h-3zM185 191h3v20h-3zM188 191h3v20h-3zM191 201h3v10h-3zM194 191h3v20h-3zM197 191h3v20h-3zM200 201h3v10h-3zM203 201h3v10h-3zM206 201h3v10h-3zM215 201h3v10h-3zM226 201h3v10h-3zM235 191h3v10h-3zM265 191h3v10h-3zM268 201h3v10h-3zM271 191h3v20h-3zM274 201h3v10h-3zM277 201h3v10h-3zM280 201h3v10h-3zM283 201h2v10h-2zM285 201h3v10h-3zM288 201h3v10h-3zM291 201h3v10h-3zM294 191h3v20h-3zM297 201h3v10h-3zM300 191h3v20h-3zM303 201h3v10h-3zM306 191h3v20h-3zM309 201h3v10h-3zM312 191h3v20h-3zM315 201h3v10h-3zM318 191h3v20h-3zM321 191h3v20h-3zM324 191h3v20h-3zM327 191h3v20h-3zM330 191h3v20h-3zM333 191h3v20h-3zM336 191h3v20h-3zM339 191h3v20h-3zM342 191h2v20h-2zM344 191h3v20h-3zM347 191h3v20h-3zM350 191h3v20h-3zM353 191h3v20h-3zM356 182h3v9h-3zM359 182h3v19h-3zM362 182h3v9h-3zM365 182h3v9h-3zM368 191h3v10h-3zM371 182h3v19h-3zM374 182h3v9h-3zM377 182h3v9h-3zM380 182h3v9h-3zM383 182h3v9h-3zM386 182h3v9h-3zM389 182h3v9h-3zM392 182h3v9h-3zM395 182h3v9h-3zM398 182h3v9h-3zM401 182h3v9h-3zM404 182h2v9h-2zM406 182h3v9h-3zM409 182h3v9h-3zM412 182h3v9h-3zM415 182h3v9h-3zM418 182h3v9h-3zM421 182h3v9h-3zM424 182h3v9h-3zM427 182h3v9h-3zM430 182h3v9h-3zM433 182h3v9h-3zM436 182h3v9h-3zM439 182h3v9h-3zM442 172h3v19h-3zM445 182h3v9h-3zM448 182h3v9h-3zM451 182h3v9h-3zM454 182h3v9h-3zM457 182h3v9h-3zM460 182h3v9h-3zM463 182h3v9h-3zM466 182h2v9h-2zM468 182h3v9h-3zM471 182h3v9h-3zM474 182h3v9h-3zM477 182h3v9h-3zM480 182h3v9h-3zM483 182h3v9h-3zM486 182h3v9h-3zM489 182h3v9h-3zM492 172h3v19h-3zM495 172h3v19h-3zM498 182h3v9h-3zM501 172h3v10h-3zM504 182h3v9h-3zM507 182h3v9h-3zM510 172h3v19h-3zM513 172h3v19h-3zM516 172h3v10h-3zM519 172h3v10h-3zM522 172h3v10h-3zM525 182h2v9h-2zM527 172h3v10h-3zM530 172h3v19h-3zM533 172h3v19h-3zM536 172h3v10h-3zM539 172h3v19h-3zM542 182h3v9h-3zM545 182h3v9h-3zM548 172h3v19h-3zM551 172h3v19h-3zM554 172h3v19h-3zM557 172h3v19h-3zM560 182h3v9h-3zM563 182h3v9h-3zM566 182h3v9h-3zM569 172h3v19h-3zM572 172h3v19h-3zM575 182h3v9h-3zM578 172h3v19h-3zM581 172h3v19h-3zM584 172h3v10h-3zM587 172h2v10h-2zM589 172h3v19h-3zM592 172h3v19h-3zM595 172h3v19h-3zM598 172h3v10h-3zM601 172h3v19h-3zM604 172h3v19h-3zM607 172h3v19h-3zM610 172h3v19h-3zM613 172h3v19h-3zM616 163h3v19h-3zM619 172h3v19h-3zM622 172h3v10h-3zM625 163h3v19h-3zM628 172h3v19h-3zM631 172h3v10h-3zM634 172h3v19h-3zM637 172h3v10h-3zM640 172h3v19h-3zM643 172h3v19h-3zM646 172h2v10h-2zM648 172h3v10h-3zM651 172h3v19h-3zM654 172h3v10h-3zM657 172h3v10h-3zM660 172h3v10h-3zM663 172h3v10h-3zM666 172h3v10h-3zM669 172h3v10h-3zM672 172h3v19h-3zM675 172h3v19h-3zM678 172h3v19h-3zM681 172h3v19h-3zM684 172h3v19h-3zM687 182h3v9h-3zM690 172h3v19h-3zM693 172h3v19h-3zM696 172h3v19h-3zM699 172h3v19h-3zM702 172h3v19h-3zM705 172h3v19h-3zM708 172h2v19h-2zM710 172h3v10h-3zM713 172h3v10h-3zM716 172h3v19h-3zM719 172h3v19h-3zM722 172h3v10h-3zM725 172h3v19h-3zM728 172h3v19h-3zM731 172h3v19h-3zM734 172h3v19h-3zM737 172h3v19h-3zM740 182h3v9h-3zM743 172h3v19h-3zM746 182h3v9h-3zM749 172h3v19h-3zM752 182h3v9h-3zM755 182h3v9h-3zM758 182h3v9h-3zM761 172h3v19h-3zM764 172h3v19h-3zM767 182h2v9h-2zM769 172h3v19h-3zM772 182h3v9h-3zM775 172h3v19h-3zM778 172h3v19h-3zM781 182h3v9h-3zM784 172h3v19h-3zM787 182h3v9h-3zM790 172h3v19h-3zM793 172h3v19h-3zM796 172h3v19h-3zM799 172h3v19h-3zM802 172h3v19h-3zM805 182h3v9h-3zM808 172h3v19h-3zM811 172h3v19h-3zM814 172h3v19h-3zM817 182h3v9h-3zM820 182h3v9h-3zM823 182h3v9h-3zM826 182h3v9h-3zM829 182h2v9h-2zM831 182h3v9h-3zM834 182h3v9h-3zM837 182h3v9h-3zM840 182h3v9h-3zM843 182h3v9h-3zM846 182h3v9h-3zM849 182h3v9h-3zM852 182h3v9h-3zM855 182h3v9h-3zM858 182h3v9h-3zM861 182h3v9h-3zM864 172h3v19h-3zM867 172h3v19h-3zM870 172h3v19h-3zM873 172h3v10h-3zM876 172h3v10h-3zM879 172h3v10h-3zM882 172h3v10h-3zM885 172h3v19h-3zM888 172h2v19h-2z"/>
<path fill="#ff0000" d="M356 191h3v20h-3zM359 201h3v10h-3zM362 191h3v20h-3zM365 191h3v20h-3zM368 201h3v10h-3zM371 201h3v10h-3zM374 191h3v20h-3zM377 191h3v20h-3zM380 191h3v20h-3zM383 191h3v20h-3zM386 191h3v20h-3zM389 191h3v20h-3zM392 191h3v20h-3zM395 191h3v20h-3zM398 191h3v20h-3zM401 191h3v20h-3zM404 191h2v20h-2zM406 191h3v20h-3zM409 191h3v20h-3zM412 191h3v20h-3zM415 191h3v20h-3zM418 191h3v20h-3zM421 191h3v20h-3zM424 191h3v20h-3zM427 191h3v20h-3zM430 191h3v20h-3zM433 191h3v20h-3zM436 191h3v20h-3zM439 191h3v20h-3zM442 191h3v20h-3zM445 191h3v20h-3zM448 191h3v20h-3zM451 191h3v20h-3zM454 191h3v20h-3zM457 191h3v20h-3zM460 191h3v20h-3zM463 191h3v20h-3zM466 191h2v20h-2zM468 191h3v20h-3zM471 191h3v20h-3zM474 191h3v20h-3zM477 191h3v20h-3zM480 191h3v20h-3zM483 191h3v20h-3zM486 191h3v20h-3zM489 191h3v20h-3zM492 191h3v20h-3zM495 191h3v20h-3zM498 191h3v20h-3zM501 182h3v29h-3zM504 191h3v20h-3zM507 191h3v20h-3zM510 191h3v20h-3zM513 191h3v20h-3zM516 182h3v29h-3zM519 182h3v29h-3zM522 182h3v9h-3zM522 201h3v10h-3zM525 191h2v20h-2zM527 182h3v29h-3zM530 191h3v20h-3zM533 191h3v20h-3zM536 182h3v29h-3zM539 191h3v20h-3zM542 191h3v20h-3zM545 191h3v20h-3zM548 191h3v20h-3zM551 191h3v20h-3zM554 191h3v20h-3zM557 191h3v20h-3zM560 191h3v20h-3zM563 191h3v20h-3zM566 191h3v20h-3zM569 191h3v20h-3zM572 191h3v20h-3zM575 191h3v20h-3zM578 191h3v20h-3zM581 191h3v20h-3zM584 182h3v29h-3zM587 182h2v29h-2zM589 191h3v20h-3zM592 191h3v20h-3zM595 191h3v20h-3zM598 182h3v29h-3zM601 191h3v20h-3zM604 191h3v20h-3zM607 191h3v20h-3zM610 191h3v20h-3zM613 191h3v20h-3zM616 182h3v29h-3zM619 191h3v20h-3zM622 182h3v29h-3zM625 182h3v29h-3zM628 191h3v20h-3zM631 182h3v29h-3zM634 191h3v20h-3zM637 182h3v29h-3zM640 191h3v20h-3zM643 191h3v20h-3zM646 182h2v29h-2zM648 182h3v29h-3zM651 191h3v20h-3zM654 182h3v29h-3zM657 182h3v29h-3zM660 182h3v29h-3zM663 182h3v29h-3zM666 182h3v29h-3zM669 182h3v29h-3zM672 191h3v20h-3zM675 191h3v20h-3zM678 191h3v20h-3zM681 191h3v20h-3zM684 191h3v20h-3zM687 191h3v20h-3zM690 191h3v20h-3zM693 191h3v20h-3zM696 191h3v20h-3zM699 191h3v20h-3zM702 191h3v20h-3zM705 191h3v20h-3zM708 191h2v20h-2zM710 182h3v29h-3zM713 182h3v29h-3zM716 191h3v20h-3zM719 191h3v20h-3zM722 182h3v29h-3zM725 191h3v20h-3zM728 191h3v20h-3zM731 191h3v20h-3zM734 191h3v20h-3zM737 191h3v20h-3zM740 191h3v20h-3zM743 191h3v20h-3zM746 191h3v20h-3zM749 191h3v20h-3zM752 191h3v20h-3zM755 191h3v20h-3zM758 191h3v20h-3zM761 191h3v20h-3zM764 191h3v20h-3zM767 191h2v20h-2zM769 191h3v20h-3zM772 191h3v20h-3zM775 191h3v20h-3zM778 191h3v20h-3zM781 191h3v20h-3zM784 191h3v20h-3zM787 191h3v20h-3zM790 191h3v20h-3zM793 191h3v20h-3zM796 191h3v20h-3zM799 191h3v20h-3zM802 191h3v20h-3zM805 191h3v20h-3zM808 191h3v20h-3zM811 191h3v20h-3zM814 191h3v20h-3zM817 191h3v20h-3zM820 191h3v20h-3zM823 191h3v20h-3zM826 191h3v20h-3zM829 191h2v20h-2zM831 191h3v20h-3zM834 191h3v20h-3zM837 191h3v20h-3zM840 191h3v20h-3zM843 191h3v20h-3zM846 191h3v20h-3zM849 191h3v20h-3zM852 191h3v20h-3zM855 191h3v20h-3zM858 191h3v20h-3zM861 191h3v20h-3zM864 191h3v20h-3zM867 191h3v20h-3zM870 191h3v20h-3zM873 182h3v29h-3zM876 182h3v29h-3zM879 182h3v29h-3zM882 182h3v29h-3zM885 191h3v20h-3zM888 191h2v20h-2z"/>
<path fill="#800000" d="M522 191h3v10h-3z"/>
</g>
<rect class="gr" x="75" y="10" width="1" height="200"/>
<rect class="gr" x="110" y="10" width="1" height="200"/>
<rect class="gr" x="146" y="10" width="1" height="200"/>
<rect class="gr" x="181" y="10" width="1" height="200"/>
<rect class="gr" x="217" y="10" width="1" height="200"/>
<rect class="gr" x="252" y="10" width="1" height="200"/>
<rect class="gr" x="287" y="10" width="1" height="200"/>
<rect class="gr" x="323" y="10" width="1" height="200"/>
<rect class="gr" x="358" y="10" width="1" height="200"/>
<rect class="gr" x="394" y="10" width="1" height="200"/>
<rect class="gr" x="429" y="10" width="1" height="200"/>
<rect class="gr" x="465" y="10" width="1" height="200"/>
<rect class="gr" x="500" y="10" width="1" height="200"/>
<rect class="gr" x="535" y="10" width="1" height="200"/>
<rect class="gr" x="571" y="10" width="1" height="200"/>
<rect class="gr" x="606" y="10" width="1" height="200"/>
<rect class="gr" x="642" y="10" width="1" height="200"/>
<rect class="gr" x="677" y="10" width="1" height="200"/>
<rect class="gr" x="712" y="10" width="1" height="200"/>
<rect class="gr" x="748" y="10" width="1" height="200"/>
<rect class="gr" x="783" y="10" width="1" height="200"/>
<rect class="gr" x="819" y="10" width="1" height="200"/>
<rect class="gr" x="854" y="10" width="1" height="200"/>
<rect class="gr" x="40" y="170" width="850" height="1"/>
<rect class="gr" x="40" y="130" width="850" height="1"/>
<rect class="gr" x="40" y="90" width="850" height="1"/>
<rect class="gr" x="40" y="50" width="850" height="1"/>
<rect class="ax" x="40" y="10" width="851" height="1"/>
<rect class="ax" x="40" y="210" width="851" height="1"/>
<rect class="ax" x="40" y="10" width="1" height="201"/>
<rect class="ax" x="890" y="10" width="1" height="201"/>
<rect class="gr" x="890" y="170" width="2" height="1"/>
<rect class="gr" x="890" y="130" width="2" height="1"/>
<rect class="gr" x="890" y="90" width="2" height="1"/>
<rect class="gr" x="890" y="50" width="2" height="1"/>
<rect class="ax" x="35" y="210" width="5" height="1"/>
<text class="t" x="33.4" y="215.2" text-anchor="end">0</text>
<rect class="ax" x="35" y="170" width="5" height="1"/>
<text class="t" x="33.4" y="175.2" text-anchor="end">200</text>
<rect class="ax" x="35" y="130" width="5" height="1"/>
<text class="t" x="33.4" y="135.2" text-anchor="end">400</text>
<rect class="ax" x="35" y="90" width="5" height="1"/>
<text class="t" x="33.4" y="95.2" text-anchor="end">600</text>
<rect class="ax" x="35" y="50" width="5" height="1"/>
<text class="t" x="33.4" y="55.2" text-anchor="end">800</text>
<rect class="ax" x="35" y="10" width="5" height="1"/>
<text class="t" x="33.4" y="15.2" text-anchor="end">1000</text>
<rect class="ax" x="40" y="211" width="1" height="5"/>
<text class="t" x="40.7" y="227.3" text-anchor="middle">00</text>
<rect class="ax" x="75" y="211" width="1" height="5"/>
<text class="t" x="75.7" y="227.3" text-anchor="middle">01</text>
<rect class="ax" x="110" y="211" width="1" height="5"/>
<text class="t" x="110.7" y="227.3" text-anchor="middle">02</text>
<rect class="ax" x="146" y="211" width="1" height="5"/>
<text class="t" x="146.7" y="227.3" text-anchor="middle">03</text>
<rect class="ax" x="181" y="211" width="1" height="5"/>
<text class="t" x="181.7" y="227.3" text-anchor="middle">04</text>
<rect class="ax" x="217" y="211" width="1" height="5"/>
<text class="t" x="217.7" y="227.3" text-anchor="middle">05</text>
<rect class="ax" x="252" y="211" width="1" height="5"/>
<text class="t" x="252.7" y="227.3" text-anchor="middle">06</text>
<rect class="ax" x="287" y="211" width="1" height="5"/>
<text class="t" x="287.7" y="227.3" text-anchor="middle">07</text>
<rect class="ax" x="323" y="211" width="1" height="5"/>
<text class="t" x="323.7" y="227.3" text-anchor="middle">08</text>
<rect class="ax" x="358" y="211" width="1" height="5"/>
<text class="t" x="358.7" y="227.3" text-anchor="middle">09</text>
<rect class="ax" x="394" y="211" width="1" height="5"/>
<text class="t" x="394.7" y="227.3" text-anchor="middle">10</text>
<rect class="ax" x="429" y="211" width="1" height="5"/>
<text class="t" x="429.7" y="227.3" text-anchor="middle">11</text>
<rect class="ax" x="465" y="211" width="1" height="5"/>
<text class="t" x="465.7" y="227.3" text-anchor="middle">12</text>
<rect class="ax" x="500" y="211" width="1" height="5"/>
<text class="t" x="500.7" y="227.3" text-anchor="middle">13</text>
<rect class="ax" x="535" y="211" width="1" height="5"/>
<text class="t" x="535.7" y="227.3" text-anchor="middle">14</text>
<rect class="ax" x="571" y="211" width="1" height="5"/>
<text class="t" x="571.7" y="227.3" text-anchor="middle">15</text>
<rect class="ax" x="606" y="211" width="1" height="5"/>
<text class="t" x="606.7" y="227.3" text-anchor="middle">16</text>
<rect class="ax" x="642" y="211" width="1" height="5"/>
<text class="t" x="642.7" y="227.3" text-anchor="middle">17</text>
<rect class="ax" x="677" y="211" width="1" height="5"/>
<text class="t" x="677.7" y="227.3" text-anchor="middle">18</text>
<rect class="ax" x="712" y="211" width="1" height="5"/>
<text class="t" x="712.7" y="227.3" text-anchor="middle">19</text>
<rect class="ax" x="748" y="211" width="1" height="5"/>
<text class="t" x="748.7" y="227.3" text-anchor="middle">20</text>
<rect class="ax" x="783" y="211" width="1" height="5"/>
<text class="t" x="783.7" y="227.3" text-anchor="middle">21</text>
<rect class="ax" x="819" y="211" width="1" height="5"/>
<text class="t" x="819.7" y="227.3" text-anchor="middle">22</text>
<rect class="ax" x="854" y="211" width="1" height="5"/>
<text class="t" x="854.7" y="227.3" text-anchor="middle">23</text>
<rect class="ax" x="890" y="211" width="1" height="5"/>
<text class="t" x="890.7" y="227.3" text-anchor="middle">24</text>
<text class="l" transform="translate(10,109.5) rotate(-90)" text-anchor="middle" textLength="59.5" lengthAdjust="spacing">Height, [m]</text>
<text class="l" x="465" y="242.5" textLength="48.5" lengthAdjust="spacing">Time, UT</text>
<text class="l" x="5" y="249.8" textLength="92.5" lengthAdjust="spacing">Temperature, °C</text>
<rect class="hm" x="100" y="235" width="35" height="20" fill="#0020ff"/>
<text class="l" x="105.0" y="269.8" style="stroke:#000;stroke-width:0.45px">-2.3</text>
<rect class="hm" x="135" y="235" width="35" height="20" fill="#0090ff"/>
<text class="l" x="140.0" y="269.8" style="stroke:#000;stroke-width:0.45px">-1.8</text>
<rect class="hm" x="170" y="235" width="35" height="20" fill="#00ffff"/>
<text class="l" x="175.0" y="269.8" style="stroke:#000;stroke-width:0.45px">-1.3</text>
<rect class="hm" x="205" y="235" width="35" height="20" fill="#00c068"/>
<text class="l" x="210.0" y="269.8" style="stroke:#000;stroke-width:0.45px">-0.7</text>
<rect class="hm" x="240" y="235" width="35" height="20" fill="#00f820"/>
<text class="l" x="245.0" y="269.8" style="stroke:#000;stroke-width:0.45px">-0.2</text>
<rect class="hm" x="275" y="235" width="35" height="20" fill="#b4ff00"/>
<text class="l" x="280.0" y="269.8" style="stroke:#000;stroke-width:0.45px">0.3</text>
<rect class="hm" x="310" y="235" width="35" height="20" fill="#ffd800"/>
<text class="l" x="315.0" y="269.8" style="stroke:#000;stroke-width:0.45px">0.8</text>
<rect class="hm" x="345" y="235" width="35" height="20" fill="#ff7030"/>
<text class="l" x="350.0" y="269.8" style="stroke:#000;stroke-width:0.45px">1.3</text>
<rect class="hm" x="380" y="235" width="35" height="20" fill="#ff0000"/>
<text class="l" x="385.0" y="269.8" style="stroke:#000;stroke-width:0.45px">1.9</text>
<rect class="hm" x="415" y="235" width="35" height="20" fill="#800000"/>
<text class="l" x="420.0" y="269.8" style="stroke:#000;stroke-width:0.45px">2.4</text>
<rect class="gr" x="71" y="320" width="1" height="260"/>
<rect class="gr" x="92" y="320" width="1" height="260"/>
<rect class="gr" x="113" y="320" width="1" height="260"/>
<rect class="gr" x="135" y="320" width="1" height="260"/>
<rect class="gr" x="156" y="320" width="1" height="260"/>
<rect class="gr" x="177" y="320" width="1" height="260"/>
<rect class="gr" x="198" y="320" width="1" height="260"/>
<rect class="gr" x="50" y="528" width="170" height="1"/>
<rect class="gr" x="50" y="476" width="170" height="1"/>
<rect class="gr" x="50" y="424" width="170" height="1"/>
<rect class="gr" x="50" y="372" width="170" height="1"/>
<svg x="50" y="319" width="171" height="263" viewBox="50 319 171 263" overflow="hidden"><polyline class="cv" points="71.7,320.5 79.1,333.5 86.0,346.5 91.3,359.5 96.1,372.5 99.3,385.5 101.8,398.5 102.3,411.5 104.4,424.5 108.6,437.5 112.8,450.5 120.2,463.5 126.5,476.5 132.4,489.5 136.4,502.5 143.4,515.5 152.5,528.5 164.5,541.5 181.4,554.5 197.2,567.5 198.9,580.5"/></svg>
<rect class="ax" x="50" y="320" width="171" height="1"/>
<rect class="ax" x="50" y="580" width="171" height="1"/>
<rect class="ax" x="50" y="320" width="1" height="261"/>
<rect class="ax" x="220" y="320" width="1" height="261"/>
<rect class="ax" x="45" y="580" width="5" height="1"/>
<text class="t" x="43.4" y="585.2" text-anchor="end">0</text>
<rect class="ax" x="45" y="528" width="5" height="1"/>
<text class="t" x="43.4" y="533.2" text-anchor="end">200</text>
<rect class="ax" x="45" y="476" width="5" height="1"/>
<text class="t" x="43.4" y="481.2" text-anchor="end">400</text>
<rect class="ax" x="45" y="424" width="5" height="1"/>
<text class="t" x="43.4" y="429.2" text-anchor="end">600</text>
<rect class="ax" x="45" y="372" width="5" height="1"/>
<text class="t" x="43.4" y="377.2" text-anchor="end">800</text>
<rect class="ax" x="45" y="320" width="5" height="1"/>
<text class="t" x="43.4" y="325.2" text-anchor="end">1000</text>
<rect class="ax" x="50" y="581" width="1" height="5"/>
<rect class="ax" x="71" y="581" width="1" height="5"/>
<rect class="ax" x="92" y="581" width="1" height="5"/>
<rect class="ax" x="113" y="581" width="1" height="5"/>
<rect class="ax" x="135" y="581" width="1" height="5"/>
<rect class="ax" x="156" y="581" width="1" height="5"/>
<rect class="ax" x="177" y="581" width="1" height="5"/>
<rect class="ax" x="198" y="581" width="1" height="5"/>
<rect class="ax" x="220" y="581" width="1" height="5"/>
<text class="t" x="71.5" y="596.3" text-anchor="middle">-1.5</text>
<text class="t" x="113.5" y="596.3" text-anchor="middle">-0.6</text>
<text class="t" x="156.5" y="596.3" text-anchor="middle">0.4</text>
<text class="t" x="198.5" y="596.3" text-anchor="middle">1.3</text>
<text class="l" x="141.8" y="610.0" text-anchor="middle" textLength="92.5" lengthAdjust="spacing">Temperature, °C</text>
<text class="l" transform="translate(15.0,439.5) rotate(-90)" text-anchor="middle" textLength="59.5" lengthAdjust="spacing">Height, [m]</text>
<text class="g" x="50.5" y="314.7" textLength="169.5" lengthAdjust="spacing">Time (hours, UT): <tspan style="stroke:#007000;stroke-width:0.3px">00:00 - 02:00</tspan></text>
<rect class="gr" x="291" y="320" width="1" height="260"/>
<rect class="gr" x="312" y="320" width="1" height="260"/>
<rect class="gr" x="333" y="320" width="1" height="260"/>
<rect class="gr" x="355" y="320" width="1" height="260"/>
<rect class="gr" x="376" y="320" width="1" height="260"/>
<rect class="gr" x="397" y="320" width="1" height="260"/>
<rect class="gr" x="418" y="320" width="1" height="260"/>
<rect class="gr" x="270" y="528" width="170" height="1"/>
<rect class="gr" x="270" y="476" width="170" height="1"/>
<rect class="gr" x="270" y="424" width="170" height="1"/>
<rect class="gr" x="270" y="372" width="170" height="1"/>
<svg x="270" y="319" width="171" height="263" viewBox="270 319 171 263" overflow="hidden"><polyline class="cv" points="291.7,320.5 298.6,333.5 307.1,346.5 311.7,359.5 318.0,372.5 321.2,385.5 323.9,398.5 325.4,411.5 327.1,424.5 331.8,437.5 336.0,450.5 343.4,463.5 350.7,476.5 355.6,489.5 359.2,502.5 365.5,515.5 372.5,528.5 383.4,541.5 399.3,554.5 415.7,567.5 419.3,580.5"/></svg>
<rect class="ax" x="270" y="320" width="171" height="1"/>
<rect class="ax" x="270" y="580" width="171" height="1"/>
<rect class="ax" x="270" y="320" width="1" height="261"/>
<rect class="ax" x="440" y="320" width="1" height="261"/>
<rect class="ax" x="265" y="580" width="5" height="1"/>
<text class="t" x="263.4" y="585.2" text-anchor="end">0</text>
<rect class="ax" x="265" y="528" width="5" height="1"/>
<text class="t" x="263.4" y="533.2" text-anchor="end">200</text>
<rect class="ax" x="265" y="476" width="5" height="1"/>
<text class="t" x="263.4" y="481.2" text-anchor="end">400</text>
<rect class="ax" x="265" y="424" width="5" height="1"/>
<text class="t" x="263.4" y="429.2" text-anchor="end">600</text>
<rect class="ax" x="265" y="372" width="5" height="1"/>
<text class="t" x="263.4" y="377.2" text-anchor="end">800</text>
<rect class="ax" x="265" y="320" width="5" height="1"/>
<text class="t" x="263.4" y="325.2" text-anchor="end">1000</text>
<rect class="ax" x="270" y="581" width="1" height="5"/>
<rect class="ax" x="291" y="581" width="1" height="5"/>
<rect class="ax" x="312" y="581" width="1" height="5"/>
<rect class="ax" x="333" y="581" width="1" height="5"/>
<rect class="ax" x="355" y="581" width="1" height="5"/>
<rect class="ax" x="376" y="581" width="1" height="5"/>
<rect class="ax" x="397" y="581" width="1" height="5"/>
<rect class="ax" x="418" y="581" width="1" height="5"/>
<rect class="ax" x="440" y="581" width="1" height="5"/>
<text class="t" x="291.5" y="596.3" text-anchor="middle">-1.3</text>
<text class="t" x="333.5" y="596.3" text-anchor="middle">-0.4</text>
<text class="t" x="376.5" y="596.3" text-anchor="middle">0.5</text>
<text class="t" x="418.5" y="596.3" text-anchor="middle">1.4</text>
<text class="l" x="361.8" y="610.0" text-anchor="middle" textLength="92.5" lengthAdjust="spacing">Temperature, °C</text>
<text class="g" x="270.5" y="314.7" textLength="169.5" lengthAdjust="spacing">Time (hours, UT): <tspan style="stroke:#007000;stroke-width:0.3px">02:00 - 04:00</tspan></text>
<rect class="gr" x="511" y="320" width="1" height="260"/>
<rect class="gr" x="532" y="320" width="1" height="260"/>
<rect class="gr" x="553" y="320" width="1" height="260"/>
<rect class="gr" x="575" y="320" width="1" height="260"/>
<rect class="gr" x="596" y="320" width="1" height="260"/>
<rect class="gr" x="617" y="320" width="1" height="260"/>
<rect class="gr" x="638" y="320" width="1" height="260"/>
<rect class="gr" x="490" y="528" width="170" height="1"/>
<rect class="gr" x="490" y="476" width="170" height="1"/>
<rect class="gr" x="490" y="424" width="170" height="1"/>
<rect class="gr" x="490" y="372" width="170" height="1"/>
<svg x="490" y="319" width="171" height="263" viewBox="490 319 171 263" overflow="hidden"><polyline class="cv" points="511.7,320.5 518.6,333.5 527.5,346.5 534.2,359.5 541.2,372.5 546.5,385.5 550.7,398.5 553.9,411.5 557.5,424.5 563.4,437.5 569.7,450.5 579.2,463.5 586.6,476.5 590.2,489.5 592.9,502.5 595.6,515.5 599.2,528.5 607.2,541.5 620.3,554.5 635.1,567.5 639.3,580.5"/></svg>
<rect class="ax" x="490" y="320" width="171" height="1"/>
<rect class="ax" x="490" y="580" width="171" height="1"/>
<rect class="ax" x="490" y="320" width="1" height="261"/>
<rect class="ax" x="660" y="320" width="1" height="261"/>
<rect class="ax" x="485" y="580" width="5" height="1"/>
<text class="t" x="483.4" y="585.2" text-anchor="end">0</text>
<rect class="ax" x="485" y="528" width="5" height="1"/>
<text class="t" x="483.4" y="533.2" text-anchor="end">200</text>
<rect class="ax" x="485" y="476" width="5" height="1"/>
<text class="t" x="483.4" y="481.2" text-anchor="end">400</text>
<rect class="ax" x="485" y="424" width="5" height="1"/>
<text class="t" x="483.4" y="429.2" text-anchor="end">600</text>
<rect class="ax" x="485" y="372" width="5" height="1"/>
<text class="t" x="483.4" y="377.2" text-anchor="end">800</text>
<rect class="ax" x="485" y="320" width="5" height="1"/>
<text class="t" x="483.4" y="325.2" text-anchor="end">1000</text>
<rect class="ax" x="490" y="581" width="1" height="5"/>
<rect class="ax" x="511" y="581" width="1" height="5"/>
<rect class="ax" x="532" y="581" width="1" height="5"/>
<rect class="ax" x="553" y="581" width="1" height="5"/>
<rect class="ax" x="575" y="581" width="1" height="5"/>
<rect class="ax" x="596" y="581" width="1" height="5"/>
<rect class="ax" x="617" y="581" width="1" height="5"/>
<rect class="ax" x="638" y="581" width="1" height="5"/>
<rect class="ax" x="660" y="581" width="1" height="5"/>
<text class="t" x="511.5" y="596.3" text-anchor="middle">-1.4</text>
<text class="t" x="553.5" y="596.3" text-anchor="middle">-0.5</text>
<text class="t" x="596.5" y="596.3" text-anchor="middle">0.4</text>
<text class="t" x="638.5" y="596.3" text-anchor="middle">1.4</text>
<text class="l" x="581.8" y="610.0" text-anchor="middle" textLength="92.5" lengthAdjust="spacing">Temperature, °C</text>
<text class="g" x="490.5" y="314.7" textLength="169.5" lengthAdjust="spacing">Time (hours, UT): <tspan style="stroke:#007000;stroke-width:0.3px">04:00 - 06:00</tspan></text>
<rect class="gr" x="731" y="320" width="1" height="260"/>
<rect class="gr" x="752" y="320" width="1" height="260"/>
<rect class="gr" x="773" y="320" width="1" height="260"/>
<rect class="gr" x="795" y="320" width="1" height="260"/>
<rect class="gr" x="816" y="320" width="1" height="260"/>
<rect class="gr" x="837" y="320" width="1" height="260"/>
<rect class="gr" x="858" y="320" width="1" height="260"/>
<rect class="gr" x="710" y="528" width="170" height="1"/>
<rect class="gr" x="710" y="476" width="170" height="1"/>
<rect class="gr" x="710" y="424" width="170" height="1"/>
<rect class="gr" x="710" y="372" width="170" height="1"/>
<svg x="710" y="319" width="171" height="263" viewBox="710 319 171 263" overflow="hidden"><polyline class="cv" points="731.7,320.5 740.1,333.5 748.5,346.5 756.6,359.5 763.3,372.5 768.2,385.5 772.4,398.5 776.0,411.5 779.6,424.5 786.5,437.5 792.9,450.5 800.2,463.5 806.1,476.5 808.7,489.5 809.5,502.5 810.4,515.5 812.5,528.5 821.3,541.5 837.8,554.5 855.1,567.5 859.3,580.5"/></svg>
<rect class="ax" x="710" y="320" width="171" height="1"/>
<rect class="ax" x="710" y="580" width="171" height="1"/>
<rect class="ax" x="710" y="320" width="1" height="261"/>
<rect class="ax" x="880" y="320" width="1" height="261"/>
<rect class="ax" x="705" y="580" width="5" height="1"/>
<text class="t" x="703.4" y="585.2" text-anchor="end">0</text>
<rect class="ax" x="705" y="528" width="5" height="1"/>
<text class="t" x="703.4" y="533.2" text-anchor="end">200</text>
<rect class="ax" x="705" y="476" width="5" height="1"/>
<text class="t" x="703.4" y="481.2" text-anchor="end">400</text>
<rect class="ax" x="705" y="424" width="5" height="1"/>
<text class="t" x="703.4" y="429.2" text-anchor="end">600</text>
<rect class="ax" x="705" y="372" width="5" height="1"/>
<text class="t" x="703.4" y="377.2" text-anchor="end">800</text>
<rect class="ax" x="705" y="320" width="5" height="1"/>
<text class="t" x="703.4" y="325.2" text-anchor="end">1000</text>
<rect class="ax" x="710" y="581" width="1" height="5"/>
<rect class="ax" x="731" y="581" width="1" height="5"/>
<rect class="ax" x="752" y="581" width="1" height="5"/>
<rect class="ax" x="773" y="581" width="1" height="5"/>
<rect class="ax" x="795" y="581" width="1" height="5"/>
<rect class="ax" x="816" y="581" width="1" height="5"/>
<rect class="ax" x="837" y="581" width="1" height="5"/>
<rect class="ax" x="858" y="581" width="1" height="5"/>
<rect class="ax" x="880" y="581" width="1" height="5"/>
<text class="t" x="731.5" y="596.3" text-anchor="middle">-1.3</text>
<text class="t" x="773.5" y="596.3" text-anchor="middle">-0.4</text>
<text class="t" x="816.5" y="596.3" text-anchor="middle">0.5</text>
<text class="t" x="858.5" y="596.3" text-anchor="middle">1.4</text>
<text class="l" x="801.8" y="610.0" text-anchor="middle" textLength="92.5" lengthAdjust="spacing">Temperature, °C</text>
<text class="g" x="710.5" y="314.7" textLength="169.5" lengthAdjust="spacing">Time (hours, UT): <tspan style="stroke:#007000;stroke-width:0.3px">06:00 - 08:00</tspan></text>
<rect class="gr" x="71" y="650" width="1" height="260"/>
<rect class="gr" x="92" y="650" width="1" height="260"/>
<rect class="gr" x="113" y="650" width="1" height="260"/>
<rect class="gr" x="135" y="650" width="1" height="260"/>
<rect class="gr" x="156" y="650" width="1" height="260"/>
<rect class="gr" x="177" y="650" width="1" height="260"/>
<rect class="gr" x="198" y="650" width="1" height="260"/>
<rect class="gr" x="50" y="858" width="170" height="1"/>
<rect class="gr" x="50" y="806" width="170" height="1"/>
<rect class="gr" x="50" y="754" width="170" height="1"/>
<rect class="gr" x="50" y="702" width="170" height="1"/>
<svg x="50" y="649" width="171" height="263" viewBox="50 649 171 263" overflow="hidden"><polyline class="cv" points="71.7,650.5 78.0,663.5 85.4,676.5 91.7,689.5 97.4,702.5 101.2,715.5 103.9,728.5 106.9,741.5 109.6,754.5 114.5,767.5 119.6,780.5 127.6,793.5 133.5,806.5 136.7,819.5 138.5,832.5 142.3,845.5 148.3,858.5 159.2,871.5 177.8,884.5 195.7,897.5 198.9,910.5"/></svg>
<rect class="ax" x="50" y="650" width="171" height="1"/>
<rect class="ax" x="50" y="910" width="171" height="1"/>
<rect class="ax" x="50" y="650" width="1" height="261"/>
<rect class="ax" x="220" y="650" width="1" height="261"/>
<rect class="ax" x="45" y="910" width="5" height="1"/>
<text class="t" x="43.4" y="915.2" text-anchor="end">0</text>
<rect class="ax" x="45" y="858" width="5" height="1"/>
<text class="t" x="43.4" y="863.2" text-anchor="end">200</text>
<rect class="ax" x="45" y="806" width="5" height="1"/>
<text class="t" x="43.4" y="811.2" text-anchor="end">400</text>
<rect class="ax" x="45" y="754" width="5" height="1"/>
<text class="t" x="43.4" y="759.2" text-anchor="end">600</text>
<rect class="ax" x="45" y="702" width="5" height="1"/>
<text class="t" x="43.4" y="707.2" text-anchor="end">800</text>
<rect class="ax" x="45" y="650" width="5" height="1"/>
<text class="t" x="43.4" y="655.2" text-anchor="end">1000</text>
<rect class="ax" x="50" y="911" width="1" height="5"/>
<rect class="ax" x="71" y="911" width="1" height="5"/>
<rect class="ax" x="92" y="911" width="1" height="5"/>
<rect class="ax" x="113" y="911" width="1" height="5"/>
<rect class="ax" x="135" y="911" width="1" height="5"/>
<rect class="ax" x="156" y="911" width="1" height="5"/>
<rect class="ax" x="177" y="911" width="1" height="5"/>
<rect class="ax" x="198" y="911" width="1" height="5"/>
<rect class="ax" x="220" y="911" width="1" height="5"/>
<text class="t" x="71.5" y="926.3" text-anchor="middle">-1.4</text>
<text class="t" x="113.5" y="926.3" text-anchor="middle">-0.3</text>
<text class="t" x="156.5" y="926.3" text-anchor="middle">0.7</text>
<text class="t" x="198.5" y="926.3" text-anchor="middle">1.8</text>
<text class="l" x="141.8" y="940.0" text-anchor="middle" textLength="92.5" lengthAdjust="spacing">Temperature, °C</text>
<text class="l" transform="translate(15.0,769.5) rotate(-90)" text-anchor="middle" textLength="59.5" lengthAdjust="spacing">Height, [m]</text>
<text class="g" x="50.5" y="644.7" textLength="169.5" lengthAdjust="spacing">Time (hours, UT): <tspan style="stroke:#007000;stroke-width:0.3px">08:00 - 10:00</tspan></text>
<rect class="gr" x="291" y="650" width="1" height="260"/>
<rect class="gr" x="312" y="650" width="1" height="260"/>
<rect class="gr" x="333" y="650" width="1" height="260"/>
<rect class="gr" x="355" y="650" width="1" height="260"/>
<rect class="gr" x="376" y="650" width="1" height="260"/>
<rect class="gr" x="397" y="650" width="1" height="260"/>
<rect class="gr" x="418" y="650" width="1" height="260"/>
<rect class="gr" x="270" y="858" width="170" height="1"/>
<rect class="gr" x="270" y="806" width="170" height="1"/>
<rect class="gr" x="270" y="754" width="170" height="1"/>
<rect class="gr" x="270" y="702" width="170" height="1"/>
<svg x="270" y="649" width="171" height="263" viewBox="270 649 171 263" overflow="hidden"><polyline class="cv" points="291.7,650.5 296.9,663.5 303.3,676.5 307.1,689.5 312.1,702.5 314.2,715.5 315.9,728.5 317.6,741.5 319.5,754.5 323.3,767.5 328.6,780.5 334.9,793.5 342.3,806.5 346.9,819.5 351.8,832.5 359.2,845.5 368.3,858.5 382.4,871.5 401.4,884.5 417.8,897.5 419.3,910.5"/></svg>
<rect class="ax" x="270" y="650" width="171" height="1"/>
<rect class="ax" x="270" y="910" width="171" height="1"/>
<rect class="ax" x="270" y="650" width="1" height="261"/>
<rect class="ax" x="440" y="650" width="1" height="261"/>
<rect class="ax" x="265" y="910" width="5" height="1"/>
<text class="t" x="263.4" y="915.2" text-anchor="end">0</text>
<rect class="ax" x="265" y="858" width="5" height="1"/>
<text class="t" x="263.4" y="863.2" text-anchor="end">200</text>
<rect class="ax" x="265" y="806" width="5" height="1"/>
<text class="t" x="263.4" y="811.2" text-anchor="end">400</text>
<rect class="ax" x="265" y="754" width="5" height="1"/>
<text class="t" x="263.4" y="759.2" text-anchor="end">600</text>
<rect class="ax" x="265" y="702" width="5" height="1"/>
<text class="t" x="263.4" y="707.2" text-anchor="end">800</text>
<rect class="ax" x="265" y="650" width="5" height="1"/>
<text class="t" x="263.4" y="655.2" text-anchor="end">1000</text>
<rect class="ax" x="270" y="911" width="1" height="5"/>
<rect class="ax" x="291" y="911" width="1" height="5"/>
<rect class="ax" x="312" y="911" width="1" height="5"/>
<rect class="ax" x="333" y="911" width="1" height="5"/>
<rect class="ax" x="355" y="911" width="1" height="5"/>
<rect class="ax" x="376" y="911" width="1" height="5"/>
<rect class="ax" x="397" y="911" width="1" height="5"/>
<rect class="ax" x="418" y="911" width="1" height="5"/>
<rect class="ax" x="440" y="911" width="1" height="5"/>
<text class="t" x="291.5" y="926.3" text-anchor="middle">-1.5</text>
<text class="t" x="333.5" y="926.3" text-anchor="middle">-0.3</text>
<text class="t" x="376.5" y="926.3" text-anchor="middle">0.9</text>
<text class="t" x="418.5" y="926.3" text-anchor="middle">2.2</text>
<text class="l" x="361.8" y="940.0" text-anchor="middle" textLength="92.5" lengthAdjust="spacing">Temperature, °C</text>
<text class="g" x="270.5" y="644.7" textLength="169.5" lengthAdjust="spacing">Time (hours, UT): <tspan style="stroke:#007000;stroke-width:0.3px">10:00 - 12:00</tspan></text>
<rect class="gr" x="511" y="650" width="1" height="260"/>
<rect class="gr" x="532" y="650" width="1" height="260"/>
<rect class="gr" x="553" y="650" width="1" height="260"/>
<rect class="gr" x="575" y="650" width="1" height="260"/>
<rect class="gr" x="596" y="650" width="1" height="260"/>
<rect class="gr" x="617" y="650" width="1" height="260"/>
<rect class="gr" x="638" y="650" width="1" height="260"/>
<rect class="gr" x="490" y="858" width="170" height="1"/>
<rect class="gr" x="490" y="806" width="170" height="1"/>
<rect class="gr" x="490" y="754" width="170" height="1"/>
<rect class="gr" x="490" y="702" width="170" height="1"/>
<svg x="490" y="649" width="171" height="263" viewBox="490 649 171 263" overflow="hidden"><polyline class="cv" points="511.7,650.5 516.9,663.5 523.3,676.5 528.5,689.5 533.4,702.5 535.9,715.5 538.0,728.5 540.6,741.5 542.7,754.5 547.5,767.5 551.8,780.5 559.1,793.5 566.5,806.5 571.8,819.5 577.1,832.5 584.5,845.5 593.9,858.5 606.6,871.5 622.4,884.5 637.8,897.5 639.3,910.5"/></svg>
<rect class="ax" x="490" y="650" width="171" height="1"/>
<rect class="ax" x="490" y="910" width="171" height="1"/>
<rect class="ax" x="490" y="650" width="1" height="261"/>
<rect class="ax" x="660" y="650" width="1" height="261"/>
<rect class="ax" x="485" y="910" width="5" height="1"/>
<text class="t" x="483.4" y="915.2" text-anchor="end">0</text>
<rect class="ax" x="485" y="858" width="5" height="1"/>
<text class="t" x="483.4" y="863.2" text-anchor="end">200</text>
<rect class="ax" x="485" y="806" width="5" height="1"/>
<text class="t" x="483.4" y="811.2" text-anchor="end">400</text>
<rect class="ax" x="485" y="754" width="5" height="1"/>
<text class="t" x="483.4" y="759.2" text-anchor="end">600</text>
<rect class="ax" x="485" y="702" width="5" height="1"/>
<text class="t" x="483.4" y="707.2" text-anchor="end">800</text>
<rect class="ax" x="485" y="650" width="5" height="1"/>
<text class="t" x="483.4" y="655.2" text-anchor="end">1000</text>
<rect class="ax" x="490" y="911" width="1" height="5"/>
<rect class="ax" x="511" y="911" width="1" height="5"/>
<rect class="ax" x="532" y="911" width="1" height="5"/>
<rect class="ax" x="553" y="911" width="1" height="5"/>
<rect class="ax" x="575" y="911" width="1" height="5"/>
<rect class="ax" x="596" y="911" width="1" height="5"/>
<rect class="ax" x="617" y="911" width="1" height="5"/>
<rect class="ax" x="638" y="911" width="1" height="5"/>
<rect class="ax" x="660" y="911" width="1" height="5"/>
<text class="t" x="511.5" y="926.3" text-anchor="middle">-1.3</text>
<text class="t" x="553.5" y="926.3" text-anchor="middle">-0.1</text>
<text class="t" x="596.5" y="926.3" text-anchor="middle">1.1</text>
<text class="t" x="638.5" y="926.3" text-anchor="middle">2.3</text>
<text class="l" x="581.8" y="940.0" text-anchor="middle" textLength="92.5" lengthAdjust="spacing">Temperature, °C</text>
<text class="g" x="490.5" y="644.7" textLength="169.5" lengthAdjust="spacing">Time (hours, UT): <tspan style="stroke:#007000;stroke-width:0.3px">12:00 - 14:00</tspan></text>
<rect class="gr" x="731" y="650" width="1" height="260"/>
<rect class="gr" x="752" y="650" width="1" height="260"/>
<rect class="gr" x="773" y="650" width="1" height="260"/>
<rect class="gr" x="795" y="650" width="1" height="260"/>
<rect class="gr" x="816" y="650" width="1" height="260"/>
<rect class="gr" x="837" y="650" width="1" height="260"/>
<rect class="gr" x="858" y="650" width="1" height="260"/>
<rect class="gr" x="710" y="858" width="170" height="1"/>
<rect class="gr" x="710" y="806" width="170" height="1"/>
<rect class="gr" x="710" y="754" width="170" height="1"/>
<rect class="gr" x="710" y="702" width="170" height="1"/>
<svg x="710" y="649" width="171" height="263" viewBox="710 649 171 263" overflow="hidden"><polyline class="cv" points="731.7,650.5 737.6,663.5 745.0,676.5 750.0,689.5 755.1,702.5 757.0,715.5 759.1,728.5 760.8,741.5 761.6,754.5 765.4,767.5 768.6,780.5 776.0,793.5 783.4,806.5 789.1,819.5 795.0,832.5 802.3,845.5 812.5,858.5 825.6,871.5 841.4,884.5 856.8,897.5 859.3,910.5"/></svg>
<rect class="ax" x="710" y="650" width="171" height="1"/>
<rect class="ax" x="710" y="910" width="171" height="1"/>
<rect class="ax" x="710" y="650" width="1" height="261"/>
<rect class="ax" x="880" y="650" width="1" height="261"/>
<rect class="ax" x="705" y="910" width="5" height="1"/>
<text class="t" x="703.4" y="915.2" text-anchor="end">0</text>
<rect class="ax" x="705" y="858" width="5" height="1"/>
<text class="t" x="703.4" y="863.2" text-anchor="end">200</text>
<rect class="ax" x="705" y="806" width="5" height="1"/>
<text class="t" x="703.4" y="811.2" text-anchor="end">400</text>
<rect class="ax" x="705" y="754" width="5" height="1"/>
<text class="t" x="703.4" y="759.2" text-anchor="end">600</text>
<rect class="ax" x="705" y="702" width="5" height="1"/>
<text class="t" x="703.4" y="707.2" text-anchor="end">800</text>
<rect class="ax" x="705" y="650" width="5" height="1"/>
<text class="t" x="703.4" y="655.2" text-anchor="end">1000</text>
<rect class="ax" x="710" y="911" width="1" height="5"/>
<rect class="ax" x="731" y="911" width="1" height="5"/>
<rect class="ax" x="752" y="911" width="1" height="5"/>
<rect class="ax" x="773" y="911" width="1" height="5"/>
<rect class="ax" x="795" y="911" width="1" height="5"/>
<rect class="ax" x="816" y="911" width="1" height="5"/>
<rect class="ax" x="837" y="911" width="1" height="5"/>
<rect class="ax" x="858" y="911" width="1" height="5"/>
<rect class="ax" x="880" y="911" width="1" height="5"/>
<text class="t" x="731.5" y="926.3" text-anchor="middle">-0.9</text>
<text class="t" x="773.5" y="926.3" text-anchor="middle">0.2</text>
<text class="t" x="816.5" y="926.3" text-anchor="middle">1.2</text>
<text class="t" x="858.5" y="926.3" text-anchor="middle">2.2</text>
<text class="l" x="801.8" y="940.0" text-anchor="middle" textLength="92.5" lengthAdjust="spacing">Temperature, °C</text>
<text class="g" x="710.5" y="644.7" textLength="169.5" lengthAdjust="spacing">Time (hours, UT): <tspan style="stroke:#007000;stroke-width:0.3px">14:00 - 16:00</tspan></text>
<rect class="gr" x="71" y="980" width="1" height="260"/>
<rect class="gr" x="92" y="980" width="1" height="260"/>
<rect class="gr" x="113" y="980" width="1" height="260"/>
<rect class="gr" x="135" y="980" width="1" height="260"/>
<rect class="gr" x="156" y="980" width="1" height="260"/>
<rect class="gr" x="177" y="980" width="1" height="260"/>
<rect class="gr" x="198" y="980" width="1" height="260"/>
<rect class="gr" x="50" y="1188" width="170" height="1"/>
<rect class="gr" x="50" y="1136" width="170" height="1"/>
<rect class="gr" x="50" y="1084" width="170" height="1"/>
<rect class="gr" x="50" y="1032" width="170" height="1"/>
<svg x="50" y="979" width="171" height="263" viewBox="50 979 171 263" overflow="hidden"><polyline class="cv" points="71.7,980.5 79.1,993.5 86.0,1006.5 91.3,1019.5 95.9,1032.5 98.5,1045.5 101.2,1058.5 101.8,1071.5 102.7,1084.5 106.5,1097.5 110.7,1110.5 119.1,1123.5 127.6,1136.5 132.9,1149.5 138.5,1162.5 146.6,1175.5 156.7,1188.5 169.8,1201.5 186.2,1214.5 198.9,1227.5 198.9,1240.5"/></svg>
<rect class="ax" x="50" y="980" width="171" height="1"/>
<rect class="ax" x="50" y="1240" width="171" height="1"/>
<rect class="ax" x="50" y="980" width="1" height="261"/>
<rect class="ax" x="220" y="980" width="1" height="261"/>
<rect class="ax" x="45" y="1240" width="5" height="1"/>
<text class="t" x="43.4" y="1245.2" text-anchor="end">0</text>
<rect class="ax" x="45" y="1188" width="5" height="1"/>
<text class="t" x="43.4" y="1193.2" text-anchor="end">200</text>
<rect class="ax" x="45" y="1136" width="5" height="1"/>
<text class="t" x="43.4" y="1141.2" text-anchor="end">400</text>
<rect class="ax" x="45" y="1084" width="5" height="1"/>
<text class="t" x="43.4" y="1089.2" text-anchor="end">600</text>
<rect class="ax" x="45" y="1032" width="5" height="1"/>
<text class="t" x="43.4" y="1037.2" text-anchor="end">800</text>
<rect class="ax" x="45" y="980" width="5" height="1"/>
<text class="t" x="43.4" y="985.2" text-anchor="end">1000</text>
<rect class="ax" x="50" y="1241" width="1" height="5"/>
<rect class="ax" x="71" y="1241" width="1" height="5"/>
<rect class="ax" x="92" y="1241" width="1" height="5"/>
<rect class="ax" x="113" y="1241" width="1" height="5"/>
<rect class="ax" x="135" y="1241" width="1" height="5"/>
<rect class="ax" x="156" y="1241" width="1" height="5"/>
<rect class="ax" x="177" y="1241" width="1" height="5"/>
<rect class="ax" x="198" y="1241" width="1" height="5"/>
<rect class="ax" x="220" y="1241" width="1" height="5"/>
<text class="t" x="71.5" y="1256.3" text-anchor="middle">-0.6</text>
<text class="t" x="113.5" y="1256.3" text-anchor="middle">0.3</text>
<text class="t" x="156.5" y="1256.3" text-anchor="middle">1.2</text>
<text class="t" x="198.5" y="1256.3" text-anchor="middle">2.2</text>
<text class="l" x="141.8" y="1270.0" text-anchor="middle" textLength="92.5" lengthAdjust="spacing">Temperature, °C</text>
<text class="l" transform="translate(15.0,1099.5) rotate(-90)" text-anchor="middle" textLength="59.5" lengthAdjust="spacing">Height, [m]</text>
<text class="g" x="50.5" y="974.7" textLength="169.5" lengthAdjust="spacing">Time (hours, UT): <tspan style="stroke:#007000;stroke-width:0.3px">16:00 - 18:00</tspan></text>
<rect class="gr" x="291" y="980" width="1" height="260"/>
<rect class="gr" x="312" y="980" width="1" height="260"/>
<rect class="gr" x="333" y="980" width="1" height="260"/>
<rect class="gr" x="355" y="980" width="1" height="260"/>
<rect class="gr" x="376" y="980" width="1" height="260"/>
<rect class="gr" x="397" y="980" width="1" height="260"/>
<rect class="gr" x="418" y="980" width="1" height="260"/>
<rect class="gr" x="270" y="1188" width="170" height="1"/>
<rect class="gr" x="270" y="1136" width="170" height="1"/>
<rect class="gr" x="270" y="1084" width="170" height="1"/>
<rect class="gr" x="270" y="1032" width="170" height="1"/>
<svg x="270" y="979" width="171" height="263" viewBox="270 979 171 263" overflow="hidden"><polyline class="cv" points="291.7,980.5 296.9,993.5 303.3,1006.5 307.1,1019.5 312.1,1032.5 314.2,1045.5 315.9,1058.5 317.6,1071.5 319.5,1084.5 324.4,1097.5 329.6,1110.5 338.1,1123.5 346.1,1136.5 352.9,1149.5 360.2,1162.5 369.1,1175.5 380.3,1188.5 392.9,1201.5 406.2,1214.5 417.8,1227.5 419.3,1240.5"/></svg>
<rect class="ax" x="270" y="980" width="171" height="1"/>
<rect class="ax" x="270" y="1240" width="171" height="1"/>
<rect class="ax" x="270" y="980" width="1" height="261"/>
<rect class="ax" x="440" y="980" width="1" height="261"/>
<rect class="ax" x="265" y="1240" width="5" height="1"/>
<text class="t" x="263.4" y="1245.2" text-anchor="end">0</text>
<rect class="ax" x="265" y="1188" width="5" height="1"/>
<text class="t" x="263.4" y="1193.2" text-anchor="end">200</text>
<rect class="ax" x="265" y="1136" width="5" height="1"/>
<text class="t" x="263.4" y="1141.2" text-anchor="end">400</text>
<rect class="ax" x="265" y="1084" width="5" height="1"/>
<text class="t" x="263.4" y="1089.2" text-anchor="end">600</text>
<rect class="ax" x="265" y="1032" width="5" height="1"/>
<text class="t" x="263.4" y="1037.2" text-anchor="end">800</text>
<rect class="ax" x="265" y="980" width="5" height="1"/>
<text class="t" x="263.4" y="985.2" text-anchor="end">1000</text>
<rect class="ax" x="270" y="1241" width="1" height="5"/>
<rect class="ax" x="291" y="1241" width="1" height="5"/>
<rect class="ax" x="312" y="1241" width="1" height="5"/>
<rect class="ax" x="333" y="1241" width="1" height="5"/>
<rect class="ax" x="355" y="1241" width="1" height="5"/>
<rect class="ax" x="376" y="1241" width="1" height="5"/>
<rect class="ax" x="397" y="1241" width="1" height="5"/>
<rect class="ax" x="418" y="1241" width="1" height="5"/>
<rect class="ax" x="440" y="1241" width="1" height="5"/>
<text class="t" x="291.5" y="1256.3" text-anchor="middle">-1.4</text>
<text class="t" x="333.5" y="1256.3" text-anchor="middle">-0.2</text>
<text class="t" x="376.5" y="1256.3" text-anchor="middle">1.0</text>
<text class="t" x="418.5" y="1256.3" text-anchor="middle">2.1</text>
<text class="l" x="361.8" y="1270.0" text-anchor="middle" textLength="92.5" lengthAdjust="spacing">Temperature, °C</text>
<text class="g" x="270.5" y="974.7" textLength="169.5" lengthAdjust="spacing">Time (hours, UT): <tspan style="stroke:#007000;stroke-width:0.3px">18:00 - 20:00</tspan></text>
<rect class="gr" x="511" y="980" width="1" height="260"/>
<rect class="gr" x="532" y="980" width="1" height="260"/>
<rect class="gr" x="553" y="980" width="1" height="260"/>
<rect class="gr" x="575" y="980" width="1" height="260"/>
<rect class="gr" x="596" y="980" width="1" height="260"/>
<rect class="gr" x="617" y="980" width="1" height="260"/>
<rect class="gr" x="638" y="980" width="1" height="260"/>
<rect class="gr" x="490" y="1188" width="170" height="1"/>
<rect class="gr" x="490" y="1136" width="170" height="1"/>
<rect class="gr" x="490" y="1084" width="170" height="1"/>
<rect class="gr" x="490" y="1032" width="170" height="1"/>
<svg x="490" y="979" width="171" height="263" viewBox="490 979 171 263" overflow="hidden"><polyline class="cv" points="511.7,980.5 516.9,993.5 523.3,1006.5 527.1,1019.5 532.1,1032.5 534.2,1045.5 535.9,1058.5 537.6,1071.5 539.5,1084.5 544.4,1097.5 549.6,1110.5 558.1,1123.5 566.1,1136.5 572.9,1149.5 580.7,1162.5 588.3,1175.5 598.2,1188.5 611.9,1201.5 626.2,1214.5 636.8,1227.5 639.3,1240.5"/></svg>
<rect class="ax" x="490" y="980" width="171" height="1"/>
<rect class="ax" x="490" y="1240" width="171" height="1"/>
<rect class="ax" x="490" y="980" width="1" height="261"/>
<rect class="ax" x="660" y="980" width="1" height="261"/>
<rect class="ax" x="485" y="1240" width="5" height="1"/>
<text class="t" x="483.4" y="1245.2" text-anchor="end">0</text>
<rect class="ax" x="485" y="1188" width="5" height="1"/>
<text class="t" x="483.4" y="1193.2" text-anchor="end">200</text>
<rect class="ax" x="485" y="1136" width="5" height="1"/>
<text class="t" x="483.4" y="1141.2" text-anchor="end">400</text>
<rect class="ax" x="485" y="1084" width="5" height="1"/>
<text class="t" x="483.4" y="1089.2" text-anchor="end">600</text>
<rect class="ax" x="485" y="1032" width="5" height="1"/>
<text class="t" x="483.4" y="1037.2" text-anchor="end">800</text>
<rect class="ax" x="485" y="980" width="5" height="1"/>
<text class="t" x="483.4" y="985.2" text-anchor="end">1000</text>
<rect class="ax" x="490" y="1241" width="1" height="5"/>
<rect class="ax" x="511" y="1241" width="1" height="5"/>
<rect class="ax" x="532" y="1241" width="1" height="5"/>
<rect class="ax" x="553" y="1241" width="1" height="5"/>
<rect class="ax" x="575" y="1241" width="1" height="5"/>
<rect class="ax" x="596" y="1241" width="1" height="5"/>
<rect class="ax" x="617" y="1241" width="1" height="5"/>
<rect class="ax" x="638" y="1241" width="1" height="5"/>
<rect class="ax" x="660" y="1241" width="1" height="5"/>
<text class="t" x="511.5" y="1256.3" text-anchor="middle">-1.5</text>
<text class="t" x="553.5" y="1256.3" text-anchor="middle">-0.3</text>
<text class="t" x="596.5" y="1256.3" text-anchor="middle">0.9</text>
<text class="t" x="638.5" y="1256.3" text-anchor="middle">2.1</text>
<text class="l" x="581.8" y="1270.0" text-anchor="middle" textLength="92.5" lengthAdjust="spacing">Temperature, °C</text>
<text class="g" x="490.5" y="974.7" textLength="169.5" lengthAdjust="spacing">Time (hours, UT): <tspan style="stroke:#007000;stroke-width:0.3px">20:00 - 22:00</tspan></text>
<rect class="gr" x="731" y="980" width="1" height="260"/>
<rect class="gr" x="752" y="980" width="1" height="260"/>
<rect class="gr" x="773" y="980" width="1" height="260"/>
<rect class="gr" x="795" y="980" width="1" height="260"/>
<rect class="gr" x="816" y="980" width="1" height="260"/>
<rect class="gr" x="837" y="980" width="1" height="260"/>
<rect class="gr" x="858" y="980" width="1" height="260"/>
<rect class="gr" x="710" y="1188" width="170" height="1"/>
<rect class="gr" x="710" y="1136" width="170" height="1"/>
<rect class="gr" x="710" y="1084" width="170" height="1"/>
<rect class="gr" x="710" y="1032" width="170" height="1"/>
<svg x="710" y="979" width="171" height="263" viewBox="710 979 171 263" overflow="hidden"><polyline class="cv" points="731.7,980.5 738.0,993.5 744.3,1006.5 748.1,1019.5 752.1,1032.5 753.4,1045.5 755.1,1058.5 755.1,1071.5 754.9,1084.5 757.6,1097.5 760.6,1110.5 768.0,1123.5 774.9,1136.5 781.7,1149.5 789.3,1162.5 799.2,1175.5 811.4,1188.5 827.7,1201.5 843.5,1214.5 857.8,1227.5 859.3,1240.5"/></svg>
<rect class="ax" x="710" y="980" width="171" height="1"/>
<rect class="ax" x="710" y="1240" width="171" height="1"/>
<rect class="ax" x="710" y="980" width="1" height="261"/>
<rect class="ax" x="880" y="980" width="1" height="261"/>
<rect class="ax" x="705" y="1240" width="5" height="1"/>
<text class="t" x="703.4" y="1245.2" text-anchor="end">0</text>
<rect class="ax" x="705" y="1188" width="5" height="1"/>
<text class="t" x="703.4" y="1193.2" text-anchor="end">200</text>
<rect class="ax" x="705" y="1136" width="5" height="1"/>
<text class="t" x="703.4" y="1141.2" text-anchor="end">400</text>
<rect class="ax" x="705" y="1084" width="5" height="1"/>
<text class="t" x="703.4" y="1089.2" text-anchor="end">600</text>
<rect class="ax" x="705" y="1032" width="5" height="1"/>
<text class="t" x="703.4" y="1037.2" text-anchor="end">800</text>
<rect class="ax" x="705" y="980" width="5" height="1"/>
<text class="t" x="703.4" y="985.2" text-anchor="end">1000</text>
<rect class="ax" x="710" y="1241" width="1" height="5"/>
<rect class="ax" x="731" y="1241" width="1" height="5"/>
<rect class="ax" x="752" y="1241" width="1" height="5"/>
<rect class="ax" x="773" y="1241" width="1" height="5"/>
<rect class="ax" x="795" y="1241" width="1" height="5"/>
<rect class="ax" x="816" y="1241" width="1" height="5"/>
<rect class="ax" x="837" y="1241" width="1" height="5"/>
<rect class="ax" x="858" y="1241" width="1" height="5"/>
<rect class="ax" x="880" y="1241" width="1" height="5"/>
<text class="t" x="731.5" y="1256.3" text-anchor="middle">-1.0</text>
<text class="t" x="773.5" y="1256.3" text-anchor="middle">0.0</text>
<text class="t" x="816.5" y="1256.3" text-anchor="middle">1.1</text>
<text class="t" x="858.5" y="1256.3" text-anchor="middle">2.1</text>
<text class="l" x="801.8" y="1270.0" text-anchor="middle" textLength="92.5" lengthAdjust="spacing">Temperature, °C</text>
<text class="g" x="710.5" y="974.7" textLength="169.5" lengthAdjust="spacing">Time (hours, UT): <tspan style="stroke:#007000;stroke-width:0.3px">22:00 - 24:00</tspan></text>
</svg></body></html>
